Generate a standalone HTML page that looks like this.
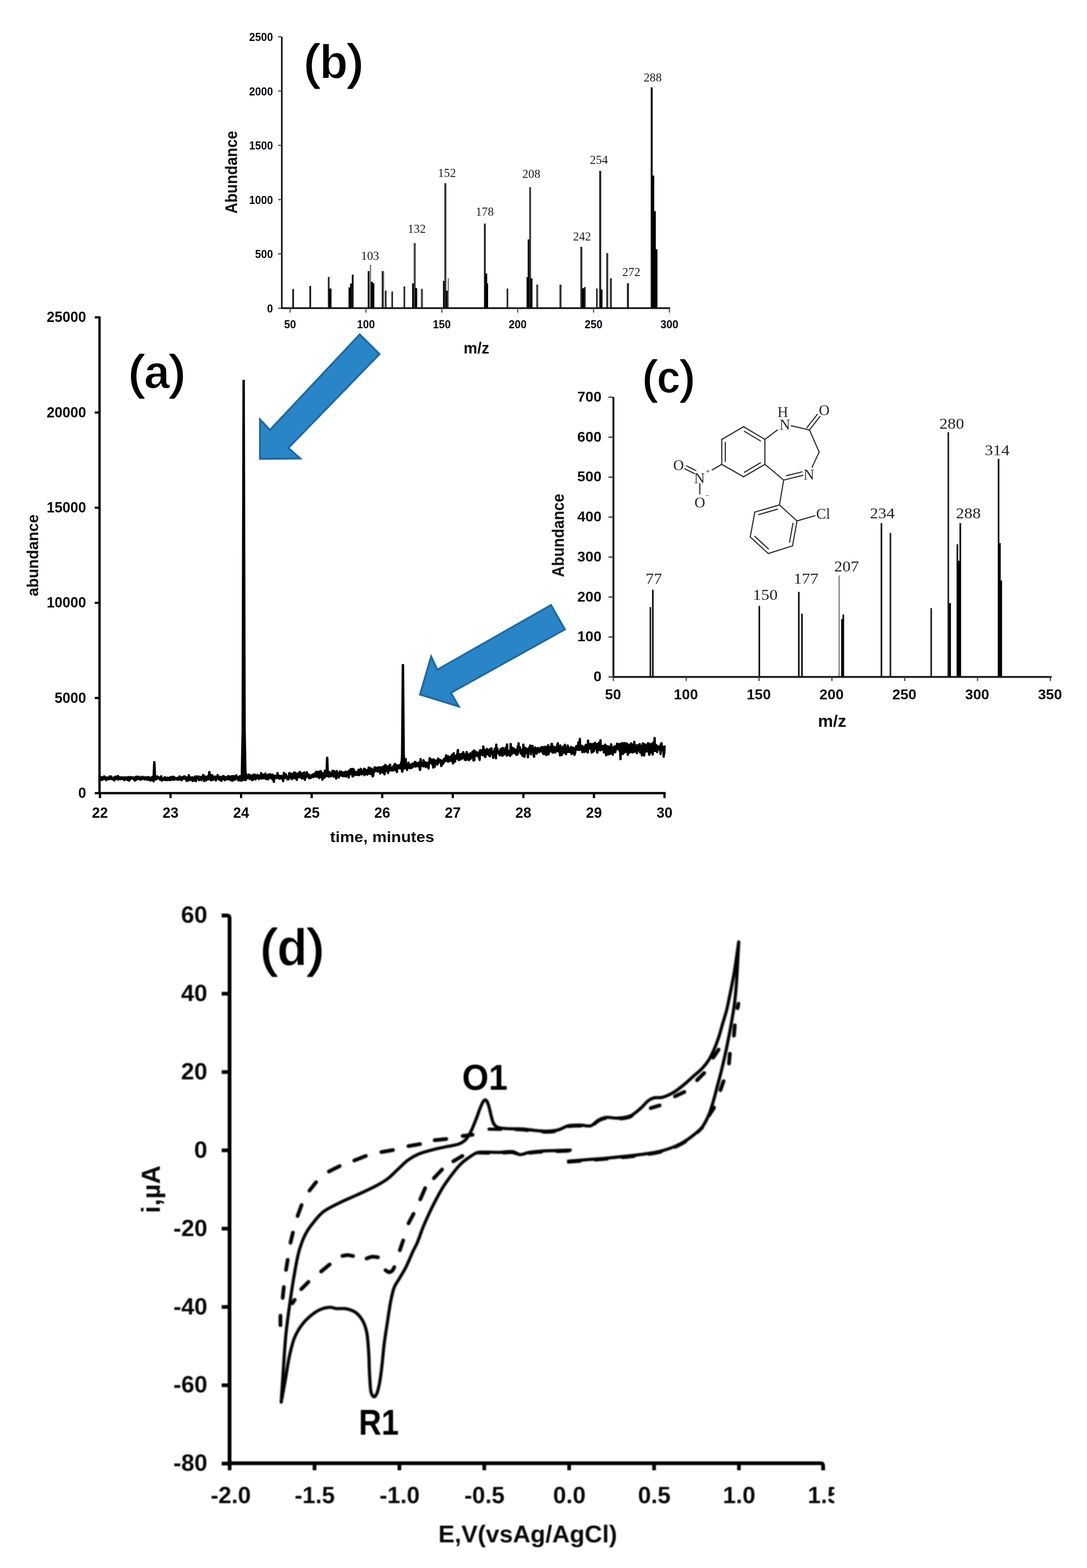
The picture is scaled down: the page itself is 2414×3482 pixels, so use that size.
<!DOCTYPE html>
<html lang="en">
<head>
<meta charset="utf-8">
<title>GC-MS chromatogram, mass spectra and cyclic voltammogram</title>
<style>
html,body{margin:0;padding:0;background:#fff;}
body{width:2414px;height:3482px;overflow:hidden;}
svg{display:block;}
text{white-space:pre;}
</style>
</head>
<body>
<svg width="2414" height="3482" viewBox="0 0 2414 3482">
<defs>
<filter id="soft05" x="0" y="0" width="2414" height="3482" filterUnits="userSpaceOnUse" color-interpolation-filters="sRGB"><feGaussianBlur stdDeviation="0.55"/></filter>
<filter id="soft08" x="0" y="0" width="2414" height="3482" filterUnits="userSpaceOnUse" color-interpolation-filters="sRGB"><feGaussianBlur stdDeviation="0.8"/></filter>
<filter id="soft10" x="0" y="0" width="2414" height="3482" filterUnits="userSpaceOnUse" color-interpolation-filters="sRGB"><feGaussianBlur stdDeviation="1.0"/></filter>
<filter id="soft15" x="0" y="0" width="2414" height="3482" filterUnits="userSpaceOnUse" color-interpolation-filters="sRGB"><feGaussianBlur stdDeviation="1.5"/></filter>
</defs>
<rect x="0" y="0" width="2414" height="3482" fill="#ffffff"/>
<g id="panel-b" filter="url(#soft05)">
<rect x="649.00" y="641.70" width="4.00" height="42.60" fill="#222"/>
<rect x="687.00" y="635.00" width="4.00" height="49.30" fill="#222"/>
<rect x="728.00" y="615.00" width="4.00" height="69.30" fill="#333"/>
<rect x="730.20" y="640.70" width="6.00" height="43.60" fill="#000"/>
<rect x="774.00" y="638.00" width="4.00" height="46.30" fill="#000"/>
<rect x="777.50" y="629.40" width="4.00" height="54.90" fill="#000"/>
<rect x="781.30" y="609.70" width="4.00" height="74.60" fill="#111"/>
<rect x="816.60" y="602.00" width="4.00" height="82.30" fill="#111"/>
<rect x="821.55" y="588.00" width="2.50" height="96.30" fill="#666"/>
<rect x="823.55" y="625.70" width="4.50" height="58.60" fill="#000"/>
<rect x="827.30" y="629.00" width="4.00" height="55.30" fill="#000"/>
<rect x="847.70" y="602.00" width="4.00" height="82.30" fill="#222"/>
<rect x="851.75" y="602.00" width="1.50" height="82.30" fill="#777"/>
<rect x="854.85" y="645.40" width="3.50" height="38.90" fill="#222"/>
<rect x="869.25" y="647.30" width="3.50" height="37.00" fill="#222"/>
<rect x="896.25" y="636.00" width="3.50" height="48.30" fill="#222"/>
<rect x="915.20" y="629.40" width="5.00" height="54.90" fill="#000"/>
<rect x="918.75" y="539.80" width="4.50" height="144.50" fill="#444"/>
<rect x="921.50" y="639.80" width="5.00" height="44.50" fill="#000"/>
<rect x="934.75" y="641.30" width="4.50" height="43.00" fill="#444"/>
<rect x="983.80" y="623.80" width="5.00" height="60.50" fill="#000"/>
<rect x="986.75" y="406.80" width="4.50" height="277.50" fill="#333"/>
<rect x="989.50" y="645.40" width="5.00" height="38.90" fill="#000"/>
<rect x="994.25" y="618.00" width="2.50" height="66.30" fill="#666"/>
<rect x="1074.70" y="496.50" width="4.00" height="187.80" fill="#222"/>
<rect x="1077.00" y="607.40" width="5.00" height="76.90" fill="#000"/>
<rect x="1080.00" y="629.00" width="4.00" height="55.30" fill="#000"/>
<rect x="1125.15" y="640.70" width="3.50" height="43.60" fill="#222"/>
<rect x="1169.35" y="615.30" width="4.50" height="69.00" fill="#000"/>
<rect x="1171.90" y="531.70" width="5.00" height="152.60" fill="#000"/>
<rect x="1175.30" y="415.50" width="4.00" height="268.80" fill="#333"/>
<rect x="1177.50" y="618.00" width="5.00" height="66.30" fill="#000"/>
<rect x="1190.75" y="632.00" width="4.50" height="52.30" fill="#444"/>
<rect x="1242.45" y="632.00" width="4.50" height="52.30" fill="#333"/>
<rect x="1288.75" y="548.00" width="4.50" height="136.30" fill="#333"/>
<rect x="1292.00" y="640.00" width="5.00" height="44.30" fill="#000"/>
<rect x="1296.70" y="637.50" width="4.00" height="46.80" fill="#222"/>
<rect x="1323.85" y="640.70" width="3.50" height="43.60" fill="#222"/>
<rect x="1330.65" y="379.40" width="4.50" height="304.90" fill="#222"/>
<rect x="1333.00" y="642.60" width="5.00" height="41.70" fill="#000"/>
<rect x="1346.25" y="562.00" width="4.50" height="122.30" fill="#333"/>
<rect x="1354.35" y="618.00" width="4.50" height="66.30" fill="#333"/>
<rect x="1392.25" y="629.00" width="4.50" height="55.30" fill="#222"/>
<rect x="1445.05" y="194.00" width="4.50" height="490.30" fill="#111"/>
<rect x="1448.00" y="389.80" width="5.00" height="294.50" fill="#000"/>
<rect x="1451.50" y="469.00" width="5.00" height="215.30" fill="#000"/>
<rect x="1455.10" y="553.50" width="5.00" height="130.80" fill="#000"/>
<rect x="624.00" y="82.00" width="3.60" height="604.10" fill="#111"/>
<rect x="624.00" y="682.40" width="864.50" height="3.80" fill="#111"/>
<rect x="617.80" y="683.00" width="8.00" height="2.60" fill="#444"/>
<rect x="617.80" y="562.48" width="8.00" height="2.60" fill="#444"/>
<rect x="617.80" y="441.95" width="8.00" height="2.60" fill="#444"/>
<rect x="617.80" y="321.42" width="8.00" height="2.60" fill="#444"/>
<rect x="617.80" y="200.90" width="8.00" height="2.60" fill="#444"/>
<rect x="617.80" y="80.37" width="8.00" height="2.60" fill="#444"/>
<rect x="642.90" y="684.30" width="2.60" height="10.00" fill="#555"/>
<rect x="811.40" y="684.30" width="2.60" height="10.00" fill="#555"/>
<rect x="979.90" y="684.30" width="2.60" height="10.00" fill="#555"/>
<rect x="1148.40" y="684.30" width="2.60" height="10.00" fill="#555"/>
<rect x="1316.90" y="684.30" width="2.60" height="10.00" fill="#555"/>
<rect x="1485.40" y="684.30" width="2.60" height="10.00" fill="#555"/>
<text x="606.2" y="693.9" font-size="26.5" font-family='"Liberation Sans", Arial, Helvetica, sans-serif' font-weight="bold" text-anchor="end" fill="#0a0a14" textLength="13.2" lengthAdjust="spacingAndGlyphs" >0</text>
<text x="606.2" y="573.4" font-size="26.5" font-family='"Liberation Sans", Arial, Helvetica, sans-serif' font-weight="bold" text-anchor="end" fill="#0a0a14" textLength="39.8" lengthAdjust="spacingAndGlyphs" >500</text>
<text x="606.2" y="452.9" font-size="26.5" font-family='"Liberation Sans", Arial, Helvetica, sans-serif' font-weight="bold" text-anchor="end" fill="#0a0a14" textLength="53.0" lengthAdjust="spacingAndGlyphs" >1000</text>
<text x="606.2" y="332.3" font-size="26.5" font-family='"Liberation Sans", Arial, Helvetica, sans-serif' font-weight="bold" text-anchor="end" fill="#0a0a14" textLength="53.0" lengthAdjust="spacingAndGlyphs" >1500</text>
<text x="606.2" y="211.8" font-size="26.5" font-family='"Liberation Sans", Arial, Helvetica, sans-serif' font-weight="bold" text-anchor="end" fill="#0a0a14" textLength="53.0" lengthAdjust="spacingAndGlyphs" >2000</text>
<text x="606.2" y="91.3" font-size="26.5" font-family='"Liberation Sans", Arial, Helvetica, sans-serif' font-weight="bold" text-anchor="end" fill="#0a0a14" textLength="53.0" lengthAdjust="spacingAndGlyphs" >2500</text>
<text x="644.2" y="728.6" font-size="26.5" font-family='"Liberation Sans", Arial, Helvetica, sans-serif' font-weight="bold" text-anchor="middle" fill="#0a0a14" textLength="26.5" lengthAdjust="spacingAndGlyphs" >50</text>
<text x="812.7" y="728.6" font-size="26.5" font-family='"Liberation Sans", Arial, Helvetica, sans-serif' font-weight="bold" text-anchor="middle" fill="#0a0a14" textLength="39.8" lengthAdjust="spacingAndGlyphs" >100</text>
<text x="981.2" y="728.6" font-size="26.5" font-family='"Liberation Sans", Arial, Helvetica, sans-serif' font-weight="bold" text-anchor="middle" fill="#0a0a14" textLength="39.8" lengthAdjust="spacingAndGlyphs" >150</text>
<text x="1149.7" y="728.6" font-size="26.5" font-family='"Liberation Sans", Arial, Helvetica, sans-serif' font-weight="bold" text-anchor="middle" fill="#0a0a14" textLength="39.8" lengthAdjust="spacingAndGlyphs" >200</text>
<text x="1318.2" y="728.6" font-size="26.5" font-family='"Liberation Sans", Arial, Helvetica, sans-serif' font-weight="bold" text-anchor="middle" fill="#0a0a14" textLength="39.8" lengthAdjust="spacingAndGlyphs" >250</text>
<text x="1486.7" y="728.6" font-size="26.5" font-family='"Liberation Sans", Arial, Helvetica, sans-serif' font-weight="bold" text-anchor="middle" fill="#0a0a14" textLength="39.8" lengthAdjust="spacingAndGlyphs" >300</text>
<text x="526.0" y="382.5" font-size="37" font-family='"Liberation Sans", Arial, Helvetica, sans-serif' font-weight="bold" text-anchor="middle" fill="#0a0a0a" textLength="184.0" lengthAdjust="spacingAndGlyphs" transform="rotate(-90 526.0 382.5)" >Abundance</text>
<text x="1058.0" y="785.3" font-size="34.5" font-family='"Liberation Sans", Arial, Helvetica, sans-serif' font-weight="bold" text-anchor="middle" fill="#0a0a0a" textLength="57.0" lengthAdjust="spacingAndGlyphs" >m/z</text>
<text x="675.5" y="174.3" font-size="105" font-family='"Liberation Sans", Arial, Helvetica, sans-serif' font-weight="bold" fill="#000" textLength="131.0" lengthAdjust="spacingAndGlyphs" stroke-linejoin="round"><tspan font-weight="normal" stroke="#000" stroke-width="3.2">(</tspan><tspan stroke="#fff" stroke-width="1.6" paint-order="fill stroke">b</tspan><tspan font-weight="normal" stroke="#000" stroke-width="3.2">)</tspan></text>
<text x="821.8" y="577.4" font-size="28" font-family='"Liberation Serif", "Times New Roman", serif' font-weight="normal" text-anchor="middle" fill="#1a1a1a" textLength="40.0" lengthAdjust="spacingAndGlyphs" >103</text>
<text x="925.5" y="517.0" font-size="28" font-family='"Liberation Serif", "Times New Roman", serif' font-weight="normal" text-anchor="middle" fill="#1a1a1a" textLength="40.0" lengthAdjust="spacingAndGlyphs" >132</text>
<text x="992.5" y="392.5" font-size="28" font-family='"Liberation Serif", "Times New Roman", serif' font-weight="normal" text-anchor="middle" fill="#1a1a1a" textLength="40.0" lengthAdjust="spacingAndGlyphs" >152</text>
<text x="1076.5" y="479.0" font-size="28" font-family='"Liberation Serif", "Times New Roman", serif' font-weight="normal" text-anchor="middle" fill="#1a1a1a" textLength="40.0" lengthAdjust="spacingAndGlyphs" >178</text>
<text x="1180.0" y="395.0" font-size="28" font-family='"Liberation Serif", "Times New Roman", serif' font-weight="normal" text-anchor="middle" fill="#1a1a1a" textLength="40.0" lengthAdjust="spacingAndGlyphs" >208</text>
<text x="1292.5" y="534.0" font-size="28" font-family='"Liberation Serif", "Times New Roman", serif' font-weight="normal" text-anchor="middle" fill="#1a1a1a" textLength="40.0" lengthAdjust="spacingAndGlyphs" >242</text>
<text x="1330.0" y="363.5" font-size="28" font-family='"Liberation Serif", "Times New Roman", serif' font-weight="normal" text-anchor="middle" fill="#1a1a1a" textLength="40.0" lengthAdjust="spacingAndGlyphs" >254</text>
<text x="1402.0" y="613.0" font-size="28" font-family='"Liberation Serif", "Times New Roman", serif' font-weight="normal" text-anchor="middle" fill="#1a1a1a" textLength="40.0" lengthAdjust="spacingAndGlyphs" >272</text>
<text x="1449.5" y="181.0" font-size="28" font-family='"Liberation Serif", "Times New Roman", serif' font-weight="normal" text-anchor="middle" fill="#1a1a1a" textLength="40.0" lengthAdjust="spacingAndGlyphs" >288</text>
</g>
<g id="panel-a" filter="url(#soft05)">
<path d="M222.0,1731.3 L222.6,1729.0 L223.3,1727.3 L223.9,1731.7 L224.5,1729.2 L225.1,1729.3 L225.8,1725.9 L226.4,1726.0 L227.0,1731.9 L227.6,1727.6 L228.3,1729.2 L228.9,1730.1 L229.5,1729.0 L230.1,1728.8 L230.8,1727.3 L231.4,1724.1 L232.0,1727.5 L232.7,1729.5 L233.3,1727.3 L233.9,1728.4 L234.5,1729.5 L235.2,1729.9 L235.8,1732.6 L236.4,1726.4 L237.0,1730.8 L237.7,1730.2 L238.3,1729.2 L238.9,1729.2 L239.6,1728.5 L240.2,1729.7 L240.8,1726.7 L241.4,1730.5 L242.1,1729.7 L242.7,1728.9 L243.3,1728.0 L243.9,1724.1 L244.6,1729.3 L245.2,1727.6 L245.8,1728.3 L246.4,1727.7 L247.1,1724.5 L247.7,1725.8 L248.3,1729.6 L249.0,1729.4 L249.6,1730.8 L250.2,1728.8 L250.8,1728.8 L251.5,1729.1 L252.1,1727.8 L252.7,1727.5 L253.3,1729.9 L254.0,1733.2 L254.6,1725.4 L255.2,1729.8 L255.9,1726.8 L256.5,1728.0 L257.1,1728.8 L257.7,1724.7 L258.4,1727.4 L259.0,1728.2 L259.6,1729.1 L260.2,1730.2 L260.9,1728.6 L261.5,1726.5 L262.1,1723.4 L262.7,1730.9 L263.4,1730.3 L264.0,1727.2 L264.6,1727.9 L265.3,1728.7 L265.9,1727.4 L266.5,1726.2 L267.1,1726.4 L267.8,1730.4 L268.4,1728.1 L269.0,1726.4 L269.6,1727.1 L270.3,1728.3 L270.9,1729.3 L271.5,1729.5 L272.2,1726.3 L272.8,1727.7 L273.4,1729.7 L274.0,1730.5 L274.7,1730.1 L275.3,1728.4 L275.9,1732.4 L276.5,1729.5 L277.2,1726.2 L277.8,1727.8 L278.4,1727.9 L279.0,1727.9 L279.7,1726.9 L280.3,1730.1 L280.9,1727.7 L281.6,1731.2 L282.2,1729.9 L282.8,1726.8 L283.4,1729.5 L284.1,1732.4 L284.7,1728.0 L285.3,1725.7 L285.9,1727.8 L286.6,1733.7 L287.2,1730.8 L287.8,1731.5 L288.4,1729.4 L289.1,1727.9 L289.7,1730.4 L290.3,1725.7 L291.0,1727.7 L291.6,1728.3 L292.2,1727.6 L292.8,1728.3 L293.5,1726.6 L294.1,1727.0 L294.7,1728.6 L295.3,1727.0 L296.0,1726.4 L296.6,1726.9 L297.2,1731.2 L297.9,1729.4 L298.5,1729.0 L299.1,1731.0 L299.7,1733.2 L300.4,1727.3 L301.0,1725.4 L301.6,1728.4 L302.2,1729.8 L302.9,1731.3 L303.5,1724.9 L304.1,1726.1 L304.7,1725.4 L305.4,1728.6 L306.0,1728.1 L306.6,1727.3 L307.3,1729.5 L307.9,1727.6 L308.5,1725.0 L309.1,1726.0 L309.8,1727.0 L310.4,1730.3 L311.0,1728.2 L311.6,1731.4 L312.3,1729.2 L312.9,1728.6 L313.5,1726.8 L314.2,1726.0 L314.8,1727.9 L315.4,1730.0 L316.0,1729.9 L316.7,1725.0 L317.3,1728.3 L317.9,1726.4 L318.5,1728.4 L319.2,1729.1 L319.8,1726.9 L320.4,1728.5 L321.0,1730.8 L321.7,1729.5 L322.3,1726.2 L322.9,1727.3 L323.6,1726.3 L324.2,1730.9 L324.8,1729.2 L325.4,1728.6 L326.1,1730.3 L326.7,1729.8 L327.3,1726.5 L327.9,1730.4 L328.6,1725.9 L329.2,1731.8 L329.8,1725.4 L330.5,1726.8 L331.1,1728.9 L331.7,1727.5 L332.3,1730.4 L333.0,1728.5 L333.6,1729.0 L334.2,1733.4 L334.8,1729.9 L335.5,1730.4 L336.1,1726.2 L336.7,1732.0 L337.3,1730.3 L338.0,1725.7 L338.6,1730.0 L339.2,1729.6 L339.9,1727.3 L340.5,1727.3 L341.1,1735.0 L341.7,1730.2 L342.4,1728.3 L343.0,1727.0 L343.6,1727.8 L344.2,1728.8 L344.9,1726.6 L345.5,1727.9 L346.1,1727.6 L346.7,1727.0 L347.4,1728.7 L348.0,1724.7 L348.6,1727.7 L349.3,1724.1 L349.9,1728.3 L350.5,1728.7 L351.1,1728.9 L351.8,1728.4 L352.4,1726.8 L353.0,1728.5 L353.6,1726.5 L354.3,1726.4 L354.9,1727.9 L355.5,1731.2 L356.2,1727.9 L356.8,1728.7 L357.4,1725.5 L358.0,1723.9 L358.7,1732.2 L359.3,1733.4 L359.9,1728.6 L360.5,1730.7 L361.2,1731.0 L361.8,1731.7 L362.4,1729.3 L363.0,1731.5 L363.7,1729.0 L364.3,1727.8 L364.9,1731.1 L365.6,1726.0 L366.2,1731.8 L366.8,1729.3 L367.4,1730.8 L368.1,1730.6 L368.7,1728.6 L369.3,1727.3 L369.9,1732.6 L370.6,1730.7 L371.2,1731.8 L371.8,1727.2 L372.5,1728.1 L373.1,1729.4 L373.7,1729.9 L374.3,1731.6 L375.0,1731.5 L375.6,1731.8 L376.2,1727.2 L376.8,1728.7 L377.5,1731.1 L378.1,1726.2 L378.7,1732.3 L379.3,1730.2 L380.0,1726.6 L380.6,1729.5 L381.2,1730.0 L381.9,1726.8 L382.5,1725.0 L383.1,1731.1 L383.7,1730.6 L384.4,1727.3 L385.0,1726.4 L385.6,1725.3 L386.2,1731.6 L386.9,1727.8 L387.5,1726.0 L388.1,1730.8 L388.8,1728.3 L389.4,1730.1 L390.0,1728.9 L390.6,1729.0 L391.3,1729.6 L391.9,1730.5 L392.5,1730.5 L393.1,1728.2 L393.8,1727.2 L394.4,1730.0 L395.0,1728.1 L395.6,1731.5 L396.3,1729.6 L396.9,1729.5 L397.5,1728.1 L398.2,1728.6 L398.8,1724.1 L399.4,1729.2 L400.0,1730.8 L400.7,1729.0 L401.3,1727.4 L401.9,1727.2 L402.5,1729.2 L403.2,1732.7 L403.8,1730.2 L404.4,1727.4 L405.0,1725.4 L405.7,1729.2 L406.3,1728.4 L406.9,1729.5 L407.6,1725.1 L408.2,1727.9 L408.8,1728.0 L409.4,1724.2 L410.1,1729.2 L410.7,1724.7 L411.3,1728.5 L411.9,1730.1 L412.6,1729.2 L413.2,1726.0 L413.8,1731.1 L414.5,1734.0 L415.1,1729.4 L415.7,1730.2 L416.3,1727.4 L417.0,1726.9 L417.6,1733.1 L418.2,1730.8 L418.8,1728.4 L419.5,1721.5 L420.1,1727.3 L420.7,1726.8 L421.3,1732.4 L422.0,1728.3 L422.6,1726.7 L423.2,1726.8 L423.9,1727.5 L424.5,1730.9 L425.1,1729.7 L425.7,1729.2 L426.4,1728.9 L427.0,1726.3 L427.6,1734.4 L428.2,1731.3 L428.9,1728.8 L429.5,1727.9 L430.1,1731.2 L430.8,1733.0 L431.4,1726.3 L432.0,1729.3 L432.6,1727.9 L433.3,1727.1 L433.9,1724.3 L434.5,1731.4 L435.1,1734.6 L435.8,1731.6 L436.4,1727.7 L437.0,1729.1 L437.6,1728.6 L438.3,1724.1 L438.9,1725.0 L439.5,1728.4 L440.2,1726.9 L440.8,1727.6 L441.4,1725.9 L442.0,1732.4 L442.7,1725.1 L443.3,1724.7 L443.9,1727.9 L444.5,1726.7 L445.2,1726.2 L445.8,1727.5 L446.4,1727.3 L447.0,1727.8 L447.7,1732.9 L448.3,1725.7 L448.9,1725.6 L449.6,1724.2 L450.2,1726.6 L450.8,1727.8 L451.4,1721.0 L452.1,1726.1 L452.7,1726.6 L453.3,1729.9 L453.9,1734.3 L454.6,1731.4 L455.2,1724.1 L455.8,1727.3 L456.5,1729.5 L457.1,1726.1 L457.7,1729.6 L458.3,1732.6 L459.0,1728.0 L459.6,1725.5 L460.2,1728.1 L460.8,1724.3 L461.5,1726.6 L462.1,1723.4 L462.7,1730.1 L463.3,1730.2 L464.0,1723.9 L464.6,1727.8 L465.2,1724.9 L465.9,1727.7 L466.5,1724.2 L467.1,1727.9 L467.7,1726.7 L468.4,1732.6 L469.0,1721.7 L469.6,1732.2 L470.2,1729.6 L470.9,1721.3 L471.5,1723.0 L472.1,1726.6 L472.8,1728.1 L473.4,1731.7 L474.0,1728.9 L474.6,1727.6 L475.3,1729.3 L475.9,1724.8 L476.5,1728.4 L477.1,1725.6 L477.8,1729.7 L478.4,1724.8 L479.0,1731.3 L479.6,1733.0 L480.3,1725.2 L480.9,1725.7 L481.5,1724.9 L482.2,1726.7 L482.8,1724.1 L483.4,1721.1 L484.0,1728.9 L484.7,1727.8 L485.3,1728.9 L485.9,1730.8 L486.5,1730.1 L487.2,1726.5 L487.8,1729.4 L488.4,1724.8 L489.1,1731.9 L489.7,1731.0 L490.3,1725.8 L490.9,1729.6 L491.6,1734.0 L492.2,1731.0 L492.8,1729.0 L493.4,1728.0 L494.1,1730.5 L494.7,1724.8 L495.3,1723.5 L495.9,1727.8 L496.6,1727.2 L497.2,1730.0 L497.8,1725.4 L498.5,1725.5 L499.1,1724.7 L499.7,1732.5 L500.3,1729.8 L501.0,1728.5 L501.6,1728.2 L502.2,1727.1 L502.8,1727.5 L503.5,1729.4 L504.1,1726.0 L504.7,1730.5 L505.3,1729.2 L506.0,1724.3 L506.6,1723.7 L507.2,1726.3 L507.9,1724.0 L508.5,1728.9 L509.1,1730.8 L509.7,1724.7 L510.4,1727.2 L511.0,1724.7 L511.6,1730.7 L512.2,1727.5 L512.9,1732.7 L513.5,1724.1 L514.1,1727.4 L514.8,1724.7 L515.4,1729.7 L516.0,1733.6 L516.6,1729.7 L517.3,1723.6 L517.9,1732.8 L518.5,1725.6 L519.1,1723.8 L519.8,1727.6 L520.4,1727.0 L521.0,1725.5 L521.6,1731.3 L522.3,1725.4 L522.9,1723.8 L523.5,1729.9 L524.2,1726.9 L524.8,1721.8 L525.4,1728.2 L526.0,1726.5 L526.7,1728.9 L527.3,1726.4 L527.9,1726.3 L528.5,1725.7 L529.2,1732.8 L529.8,1729.0 L530.4,1726.3 L531.1,1726.4 L531.7,1728.1 L532.3,1732.5 L532.9,1723.6 L533.6,1733.2 L534.2,1727.4 L534.8,1725.0 L535.4,1731.5 L536.1,1725.8 L536.7,1733.3 L537.3,1731.6 L537.9,1727.8 L538.6,1725.9 L539.2,1729.5 L539.8,1721.4 L540.5,1731.1 L541.1,1730.2 L541.7,1730.3 L542.3,1729.2 L543.0,1731.3 L543.6,1731.1 L544.2,1731.9 L544.8,1727.4 L545.5,1732.2 L546.1,1729.0 L546.7,1718.5 L547.4,1723.2 L548.0,1729.0 L548.6,1723.4 L549.2,1725.2 L549.9,1726.4 L550.5,1726.6 L551.1,1725.4 L551.7,1723.6 L552.4,1723.8 L553.0,1720.1 L553.6,1726.5 L554.2,1729.9 L554.9,1724.8 L555.5,1727.9 L556.1,1729.0 L556.8,1726.7 L557.4,1722.2 L558.0,1728.3 L558.6,1723.4 L559.3,1725.8 L559.9,1732.4 L560.5,1725.6 L561.1,1725.0 L561.8,1731.5 L562.4,1720.5 L563.0,1729.2 L563.6,1729.6 L564.3,1727.9 L564.9,1728.2 L565.5,1725.0 L566.2,1720.5 L566.8,1722.4 L567.4,1730.9 L568.0,1728.1 L568.7,1727.7 L569.3,1724.7 L569.9,1726.5 L570.5,1722.8 L571.2,1723.2 L571.8,1720.8 L572.4,1725.8 L573.1,1728.1 L573.7,1722.3 L574.3,1724.1 L574.9,1730.1 L575.6,1724.9 L576.2,1726.7 L576.8,1723.5 L577.4,1722.1 L578.1,1725.2 L578.7,1726.9 L579.3,1723.9 L579.9,1716.8 L580.6,1728.9 L581.2,1729.0 L581.8,1726.8 L582.5,1724.6 L583.1,1723.0 L583.7,1719.9 L584.3,1724.8 L585.0,1727.8 L585.6,1722.3 L586.2,1726.0 L586.8,1728.1 L587.5,1724.4 L588.1,1722.4 L588.7,1726.4 L589.4,1718.0 L590.0,1726.6 L590.6,1726.0 L591.2,1730.0 L591.9,1723.2 L592.5,1725.8 L593.1,1723.2 L593.7,1722.1 L594.4,1723.0 L595.0,1730.5 L595.6,1723.3 L596.2,1720.0 L596.9,1728.5 L597.5,1726.2 L598.1,1725.8 L598.8,1725.9 L599.4,1721.0 L600.0,1719.4 L600.6,1723.0 L601.3,1727.7 L601.9,1722.6 L602.5,1727.8 L603.1,1726.9 L603.8,1725.9 L604.4,1728.9 L605.0,1720.2 L605.7,1731.3 L606.3,1727.9 L606.9,1732.2 L607.5,1728.8 L608.2,1736.2 L608.8,1729.4 L609.4,1722.5 L610.0,1724.5 L610.7,1727.8 L611.3,1722.9 L611.9,1727.7 L612.5,1726.7 L613.2,1724.9 L613.8,1725.8 L614.4,1723.7 L615.1,1727.6 L615.7,1723.6 L616.3,1716.6 L616.9,1727.1 L617.6,1722.8 L618.2,1725.3 L618.8,1726.1 L619.4,1726.1 L620.1,1722.7 L620.7,1729.4 L621.3,1727.1 L621.9,1723.6 L622.6,1723.2 L623.2,1725.1 L623.8,1727.0 L624.5,1728.7 L625.1,1728.6 L625.7,1726.0 L626.3,1728.4 L627.0,1722.8 L627.6,1725.6 L628.2,1725.6 L628.8,1734.6 L629.5,1726.1 L630.1,1721.4 L630.7,1716.5 L631.4,1726.9 L632.0,1721.0 L632.6,1727.5 L633.2,1719.9 L633.9,1726.9 L634.5,1724.7 L635.1,1719.7 L635.7,1722.9 L636.4,1724.4 L637.0,1727.5 L637.6,1728.3 L638.2,1730.4 L638.9,1724.9 L639.5,1725.5 L640.1,1730.9 L640.8,1725.5 L641.4,1729.4 L642.0,1722.2 L642.6,1716.6 L643.3,1722.7 L643.9,1723.5 L644.5,1721.4 L645.1,1721.0 L645.8,1725.0 L646.4,1721.5 L647.0,1718.1 L647.7,1730.4 L648.3,1720.2 L648.9,1720.9 L649.5,1728.0 L650.2,1722.8 L650.8,1724.4 L651.4,1719.4 L652.0,1728.1 L652.7,1715.7 L653.3,1724.4 L653.9,1717.9 L654.5,1725.1 L655.2,1721.2 L655.8,1716.0 L656.4,1728.1 L657.1,1727.1 L657.7,1722.3 L658.3,1723.9 L658.9,1731.9 L659.6,1726.5 L660.2,1718.4 L660.8,1722.5 L661.4,1723.5 L662.1,1725.7 L662.7,1722.3 L663.3,1717.3 L664.0,1724.1 L664.6,1725.9 L665.2,1714.5 L665.8,1715.2 L666.5,1714.7 L667.1,1724.2 L667.7,1718.9 L668.3,1721.7 L669.0,1720.5 L669.6,1725.9 L670.2,1728.6 L670.8,1717.3 L671.5,1719.4 L672.1,1719.4 L672.7,1720.1 L673.4,1722.3 L674.0,1717.5 L674.6,1728.3 L675.2,1724.2 L675.9,1715.2 L676.5,1718.4 L677.1,1731.5 L677.7,1726.7 L678.4,1722.8 L679.0,1722.6 L679.6,1719.8 L680.2,1725.9 L680.9,1723.2 L681.5,1715.0 L682.1,1722.4 L682.8,1719.8 L683.4,1721.0 L684.0,1723.1 L684.6,1722.1 L685.3,1719.8 L685.9,1721.5 L686.5,1728.0 L687.1,1722.3 L687.8,1723.8 L688.4,1722.2 L689.0,1727.9 L689.7,1724.7 L690.3,1724.0 L690.9,1726.6 L691.5,1724.2 L692.2,1721.8 L692.8,1724.5 L693.4,1724.7 L694.0,1720.8 L694.7,1719.7 L695.3,1725.5 L695.9,1725.6 L696.5,1720.6 L697.2,1725.1 L697.8,1721.1 L698.4,1720.7 L699.1,1723.1 L699.7,1717.1 L700.3,1717.5 L700.9,1716.3 L701.6,1721.4 L702.2,1714.0 L702.8,1721.7 L703.4,1725.2 L704.1,1719.5 L704.7,1720.9 L705.3,1718.2 L706.0,1714.3 L706.6,1724.3 L707.2,1717.8 L707.8,1722.6 L708.5,1720.7 L709.1,1727.8 L709.7,1713.6 L710.3,1713.8 L711.0,1716.6 L711.6,1717.1 L712.2,1712.4 L712.8,1718.2 L713.5,1719.3 L714.1,1725.6 L714.7,1725.5 L715.4,1716.4 L716.0,1731.3 L716.6,1726.0 L717.2,1718.4 L717.9,1721.3 L718.5,1718.9 L719.1,1720.1 L719.7,1723.6 L720.4,1727.0 L721.0,1716.8 L721.6,1711.5 L722.3,1724.2 L722.9,1717.9 L723.5,1722.3 L724.1,1714.3 L724.8,1722.9 L725.4,1718.0 L726.0,1717.7 L726.6,1723.6 L727.3,1721.7 L727.9,1716.5 L728.5,1714.3 L729.1,1716.4 L729.8,1724.5 L730.4,1714.3 L731.0,1720.7 L731.7,1714.3 L732.3,1718.9 L732.9,1719.4 L733.5,1724.2 L734.2,1718.5 L734.8,1717.7 L735.4,1723.4 L736.0,1717.0 L736.7,1720.7 L737.3,1717.0 L737.9,1720.6 L738.5,1711.7 L739.2,1714.8 L739.8,1718.3 L740.4,1716.7 L741.1,1725.0 L741.7,1720.6 L742.3,1712.7 L742.9,1720.6 L743.6,1720.8 L744.2,1722.0 L744.8,1720.5 L745.4,1721.8 L746.1,1717.6 L746.7,1729.0 L747.3,1715.7 L748.0,1712.4 L748.6,1720.3 L749.2,1719.0 L749.8,1716.8 L750.5,1720.1 L751.1,1722.6 L751.7,1719.0 L752.3,1726.5 L753.0,1720.7 L753.6,1722.8 L754.2,1722.7 L754.8,1713.5 L755.5,1717.2 L756.1,1717.5 L756.7,1721.9 L757.4,1713.7 L758.0,1716.0 L758.6,1717.5 L759.2,1720.5 L759.9,1715.3 L760.5,1723.4 L761.1,1720.6 L761.7,1719.4 L762.4,1723.2 L763.0,1715.4 L763.6,1719.1 L764.3,1720.0 L764.9,1723.5 L765.5,1719.6 L766.1,1721.2 L766.8,1722.8 L767.4,1713.7 L768.0,1714.9 L768.6,1724.3 L769.3,1718.3 L769.9,1720.8 L770.5,1719.1 L771.1,1718.7 L771.8,1714.3 L772.4,1713.9 L773.0,1721.8 L773.7,1716.7 L774.3,1726.5 L774.9,1720.2 L775.5,1711.3 L776.2,1718.0 L776.8,1719.6 L777.4,1712.1 L778.0,1711.2 L778.7,1708.3 L779.3,1712.5 L779.9,1712.3 L780.6,1707.8 L781.2,1714.6 L781.8,1718.9 L782.4,1720.7 L783.1,1724.2 L783.7,1707.7 L784.3,1717.9 L784.9,1723.0 L785.6,1718.1 L786.2,1709.5 L786.8,1716.6 L787.4,1718.7 L788.1,1717.5 L788.7,1715.1 L789.3,1719.3 L790.0,1720.5 L790.6,1715.9 L791.2,1714.6 L791.8,1719.5 L792.5,1720.5 L793.1,1716.8 L793.7,1716.5 L794.3,1718.1 L795.0,1720.7 L795.6,1713.8 L796.2,1709.5 L796.8,1712.5 L797.5,1721.1 L798.1,1718.5 L798.7,1712.2 L799.4,1709.8 L800.0,1711.0 L800.6,1714.2 L801.2,1707.4 L801.9,1714.3 L802.5,1713.8 L803.1,1719.8 L803.7,1716.1 L804.4,1716.0 L805.0,1713.2 L805.6,1712.1 L806.3,1713.0 L806.9,1713.3 L807.5,1718.0 L808.1,1708.0 L808.8,1707.3 L809.4,1721.3 L810.0,1716.4 L810.6,1708.1 L811.3,1719.1 L811.9,1709.6 L812.5,1718.5 L813.1,1710.4 L813.8,1710.4 L814.4,1713.8 L815.0,1714.2 L815.7,1720.1 L816.3,1719.1 L816.9,1719.0 L817.5,1710.5 L818.2,1709.6 L818.8,1704.6 L819.4,1712.4 L820.0,1713.4 L820.7,1705.2 L821.3,1712.1 L821.9,1716.5 L822.6,1718.9 L823.2,1709.8 L823.8,1707.2 L824.4,1709.0 L825.1,1706.9 L825.7,1711.3 L826.3,1715.2 L826.9,1709.6 L827.6,1724.1 L828.2,1709.9 L828.8,1722.6 L829.4,1709.6 L830.1,1710.9 L830.7,1715.3 L831.3,1714.4 L832.0,1704.1 L832.6,1705.7 L833.2,1710.6 L833.8,1705.5 L834.5,1705.1 L835.1,1707.2 L835.7,1709.3 L836.3,1709.8 L837.0,1712.2 L837.6,1705.3 L838.2,1712.5 L838.8,1713.3 L839.5,1711.6 L840.1,1709.2 L840.7,1704.2 L841.4,1706.3 L842.0,1711.5 L842.6,1712.6 L843.2,1705.2 L843.9,1704.3 L844.5,1717.5 L845.1,1707.3 L845.7,1712.9 L846.4,1708.0 L847.0,1704.1 L847.6,1704.1 L848.3,1706.2 L848.9,1713.9 L849.5,1709.8 L850.1,1715.6 L850.8,1705.8 L851.4,1710.1 L852.0,1701.8 L852.6,1706.0 L853.3,1706.1 L853.9,1719.5 L854.5,1712.6 L855.1,1703.3 L855.8,1698.6 L856.4,1701.5 L857.0,1706.5 L857.7,1702.0 L858.3,1707.0 L858.9,1712.0 L859.5,1710.8 L860.2,1710.3 L860.8,1702.0 L861.4,1708.5 L862.0,1716.5 L862.7,1703.3 L863.3,1709.4 L863.9,1701.2 L864.6,1705.8 L865.2,1710.4 L865.8,1707.1 L866.4,1698.1 L867.1,1710.4 L867.7,1707.0 L868.3,1704.7 L868.9,1710.2 L869.6,1707.5 L870.2,1711.2 L870.8,1708.6 L871.4,1708.8 L872.1,1704.0 L872.7,1703.7 L873.3,1710.5 L874.0,1700.7 L874.6,1703.9 L875.2,1704.0 L875.8,1702.1 L876.5,1708.0 L877.1,1696.2 L877.7,1706.4 L878.3,1710.7 L879.0,1706.9 L879.6,1707.6 L880.2,1708.9 L880.9,1707.8 L881.5,1714.3 L882.1,1699.3 L882.7,1704.5 L883.4,1703.1 L884.0,1700.6 L884.6,1700.9 L885.2,1703.8 L885.9,1704.1 L886.5,1705.8 L887.1,1699.1 L887.7,1704.1 L888.4,1699.7 L889.0,1705.9 L889.6,1705.4 L890.3,1706.4 L890.9,1693.1 L891.5,1706.5 L892.1,1702.4 L892.8,1711.4 L893.4,1713.5 L894.0,1703.8 L894.6,1708.4 L895.3,1702.5 L895.9,1704.2 L896.5,1702.9 L897.1,1702.3 L897.8,1704.6 L898.4,1704.8 L899.0,1697.1 L899.7,1695.4 L900.3,1703.1 L900.9,1685.6 L901.5,1700.5 L902.2,1703.6 L902.8,1702.4 L903.4,1701.6 L904.0,1709.8 L904.7,1697.6 L905.3,1705.2 L905.9,1704.9 L906.6,1700.6 L907.2,1693.6 L907.8,1702.3 L908.4,1705.0 L909.1,1700.7 L909.7,1702.0 L910.3,1703.3 L910.9,1701.6 L911.6,1706.0 L912.2,1700.2 L912.8,1697.9 L913.4,1698.8 L914.1,1702.0 L914.7,1704.8 L915.3,1696.6 L916.0,1696.0 L916.6,1703.2 L917.2,1699.8 L917.8,1702.2 L918.5,1701.0 L919.1,1698.4 L919.7,1699.0 L920.3,1696.4 L921.0,1692.2 L921.6,1696.4 L922.2,1702.1 L922.9,1692.5 L923.5,1700.7 L924.1,1701.9 L924.7,1700.9 L925.4,1695.3 L926.0,1696.1 L926.6,1695.4 L927.2,1695.3 L927.9,1699.1 L928.5,1700.9 L929.1,1696.6 L929.7,1697.7 L930.4,1693.3 L931.0,1696.7 L931.6,1704.8 L932.3,1707.0 L932.9,1709.7 L933.5,1701.9 L934.1,1685.7 L934.8,1697.9 L935.4,1693.7 L936.0,1694.8 L936.6,1700.3 L937.3,1694.8 L937.9,1696.1 L938.5,1697.0 L939.2,1698.0 L939.8,1701.8 L940.4,1688.2 L941.0,1692.8 L941.7,1692.7 L942.3,1697.6 L942.9,1695.8 L943.5,1696.0 L944.2,1692.8 L944.8,1696.4 L945.4,1703.5 L946.0,1694.5 L946.7,1694.0 L947.3,1693.9 L947.9,1696.6 L948.6,1697.3 L949.2,1702.2 L949.8,1700.9 L950.4,1694.5 L951.1,1693.5 L951.7,1706.3 L952.3,1697.5 L952.9,1693.0 L953.6,1695.6 L954.2,1683.7 L954.8,1692.0 L955.4,1692.6 L956.1,1686.7 L956.7,1693.8 L957.3,1693.1 L958.0,1692.3 L958.6,1693.0 L959.2,1686.6 L959.8,1693.7 L960.5,1698.3 L961.1,1692.9 L961.7,1699.0 L962.3,1704.4 L963.0,1687.3 L963.6,1686.5 L964.2,1689.1 L964.9,1693.2 L965.5,1702.3 L966.1,1692.3 L966.7,1692.5 L967.4,1689.3 L968.0,1691.6 L968.6,1694.6 L969.2,1692.7 L969.9,1693.3 L970.5,1688.6 L971.1,1697.8 L971.7,1692.0 L972.4,1695.8 L973.0,1684.5 L973.6,1692.0 L974.3,1688.2 L974.9,1692.2 L975.5,1686.7 L976.1,1687.8 L976.8,1687.6 L977.4,1687.6 L978.0,1693.1 L978.6,1690.6 L979.3,1690.6 L979.9,1701.1 L980.5,1700.1 L981.2,1691.2 L981.8,1690.8 L982.4,1689.0 L983.0,1692.2 L983.7,1696.3 L984.3,1692.9 L984.9,1694.2 L985.5,1687.9 L986.2,1685.1 L986.8,1689.5 L987.4,1691.1 L988.0,1686.6 L988.7,1688.0 L989.3,1683.1 L989.9,1687.4 L990.6,1677.7 L991.2,1684.3 L991.8,1689.1 L992.4,1686.5 L993.1,1679.3 L993.7,1690.9 L994.3,1678.9 L994.9,1688.9 L995.6,1680.4 L996.2,1691.4 L996.8,1682.6 L997.5,1687.9 L998.1,1681.7 L998.7,1686.0 L999.3,1686.6 L1000.0,1687.9 L1000.6,1689.2 L1001.2,1686.2 L1001.8,1679.5 L1002.5,1687.6 L1003.1,1683.6 L1003.7,1676.7 L1004.3,1690.5 L1005.0,1677.7 L1005.6,1691.7 L1006.2,1695.2 L1006.9,1686.2 L1007.5,1672.7 L1008.1,1686.0 L1008.7,1684.5 L1009.4,1677.8 L1010.0,1691.4 L1010.6,1691.4 L1011.2,1683.0 L1011.9,1682.4 L1012.5,1683.4 L1013.1,1680.2 L1013.7,1680.7 L1014.4,1684.7 L1015.0,1674.8 L1015.6,1681.4 L1016.3,1669.9 L1016.9,1665.7 L1017.5,1677.6 L1018.1,1677.0 L1018.8,1688.2 L1019.4,1685.8 L1020.0,1675.5 L1020.6,1679.1 L1021.3,1681.1 L1021.9,1676.8 L1022.5,1686.5 L1023.2,1676.1 L1023.8,1679.3 L1024.4,1674.3 L1025.0,1677.7 L1025.7,1684.6 L1026.3,1676.6 L1026.9,1682.6 L1027.5,1680.7 L1028.2,1676.9 L1028.8,1670.4 L1029.4,1679.2 L1030.0,1680.7 L1030.7,1682.0 L1031.3,1680.3 L1031.9,1686.8 L1032.6,1683.6 L1033.2,1675.5 L1033.8,1685.4 L1034.4,1688.0 L1035.1,1685.3 L1035.7,1680.4 L1036.3,1669.9 L1036.9,1682.7 L1037.6,1677.3 L1038.2,1685.9 L1038.8,1674.1 L1039.5,1682.3 L1040.1,1676.4 L1040.7,1678.1 L1041.3,1688.1 L1042.0,1679.1 L1042.6,1678.1 L1043.2,1677.9 L1043.8,1680.7 L1044.5,1673.0 L1045.1,1685.0 L1045.7,1678.2 L1046.3,1679.7 L1047.0,1673.5 L1047.6,1679.8 L1048.2,1680.5 L1048.9,1677.5 L1049.5,1669.4 L1050.1,1672.8 L1050.7,1671.8 L1051.4,1688.3 L1052.0,1677.6 L1052.6,1666.7 L1053.2,1688.4 L1053.9,1676.3 L1054.5,1675.5 L1055.1,1676.8 L1055.8,1668.7 L1056.4,1677.3 L1057.0,1678.5 L1057.6,1674.4 L1058.3,1671.0 L1058.9,1673.1 L1059.5,1677.1 L1060.1,1678.4 L1060.8,1671.2 L1061.4,1675.6 L1062.0,1674.8 L1062.6,1676.5 L1063.3,1679.6 L1063.9,1683.5 L1064.5,1675.8 L1065.2,1687.5 L1065.8,1666.7 L1066.4,1672.1 L1067.0,1669.1 L1067.7,1675.7 L1068.3,1665.9 L1068.9,1671.7 L1069.5,1672.3 L1070.2,1672.3 L1070.8,1675.1 L1071.4,1676.3 L1072.0,1674.3 L1072.7,1677.4 L1073.3,1658.0 L1073.9,1663.6 L1074.6,1669.6 L1075.2,1670.5 L1075.8,1669.5 L1076.4,1665.4 L1077.1,1668.3 L1077.7,1681.0 L1078.3,1676.9 L1078.9,1670.5 L1079.6,1669.7 L1080.2,1665.6 L1080.8,1667.1 L1081.5,1663.3 L1082.1,1674.5 L1082.7,1665.3 L1083.3,1673.7 L1084.0,1666.7 L1084.6,1675.6 L1085.2,1666.6 L1085.8,1673.5 L1086.5,1678.1 L1087.1,1668.6 L1087.7,1664.0 L1088.3,1679.3 L1089.0,1669.1 L1089.6,1673.0 L1090.2,1662.8 L1090.9,1671.2 L1091.5,1661.8 L1092.1,1673.9 L1092.7,1668.8 L1093.4,1673.6 L1094.0,1674.5 L1094.6,1672.5 L1095.2,1682.8 L1095.9,1681.6 L1096.5,1669.2 L1097.1,1667.8 L1097.8,1668.8 L1098.4,1666.0 L1099.0,1662.4 L1099.6,1674.7 L1100.3,1671.8 L1100.9,1667.4 L1101.5,1683.8 L1102.1,1653.7 L1102.8,1668.3 L1103.4,1665.7 L1104.0,1664.3 L1104.6,1662.5 L1105.3,1671.8 L1105.9,1668.8 L1106.5,1669.8 L1107.2,1669.3 L1107.8,1671.0 L1108.4,1673.7 L1109.0,1675.9 L1109.7,1677.2 L1110.3,1677.2 L1110.9,1666.4 L1111.5,1664.3 L1112.2,1667.4 L1112.8,1664.5 L1113.4,1662.6 L1114.1,1668.5 L1114.7,1671.1 L1115.3,1672.5 L1115.9,1678.4 L1116.6,1660.8 L1117.2,1671.3 L1117.8,1668.3 L1118.4,1672.1 L1119.1,1669.5 L1119.7,1675.0 L1120.3,1669.6 L1120.9,1667.4 L1121.6,1662.3 L1122.2,1662.9 L1122.8,1664.3 L1123.5,1671.1 L1124.1,1659.4 L1124.7,1673.2 L1125.3,1677.8 L1126.0,1653.5 L1126.6,1665.7 L1127.2,1665.6 L1127.8,1672.1 L1128.5,1676.1 L1129.1,1668.2 L1129.7,1669.8 L1130.3,1672.2 L1131.0,1674.0 L1131.6,1674.9 L1132.2,1670.9 L1132.9,1678.7 L1133.5,1668.6 L1134.1,1652.2 L1134.7,1660.1 L1135.4,1675.4 L1136.0,1673.5 L1136.6,1674.5 L1137.2,1666.3 L1137.9,1668.1 L1138.5,1661.0 L1139.1,1668.0 L1139.8,1670.9 L1140.4,1662.5 L1141.0,1666.9 L1141.6,1662.4 L1142.3,1665.9 L1142.9,1672.6 L1143.5,1664.5 L1144.1,1670.4 L1144.8,1666.9 L1145.4,1666.2 L1146.0,1673.3 L1146.6,1676.2 L1147.3,1664.8 L1147.9,1673.1 L1148.5,1667.7 L1149.2,1675.3 L1149.8,1657.3 L1150.4,1672.4 L1151.0,1667.7 L1151.7,1650.7 L1152.3,1666.6 L1152.9,1661.7 L1153.5,1664.4 L1154.2,1658.9 L1154.8,1663.8 L1155.4,1664.9 L1156.1,1665.5 L1156.7,1673.5 L1157.3,1670.1 L1157.9,1670.8 L1158.6,1664.8 L1159.2,1674.6 L1159.8,1673.8 L1160.4,1678.5 L1161.1,1671.3 L1161.7,1674.6 L1162.3,1653.7 L1162.9,1664.1 L1163.6,1669.1 L1164.2,1663.0 L1164.8,1680.7 L1165.5,1664.6 L1166.1,1660.9 L1166.7,1669.5 L1167.3,1669.9 L1168.0,1662.4 L1168.6,1663.5 L1169.2,1662.3 L1169.8,1672.8 L1170.5,1666.2 L1171.1,1673.4 L1171.7,1666.8 L1172.4,1681.6 L1173.0,1664.0 L1173.6,1664.9 L1174.2,1668.4 L1174.9,1666.3 L1175.5,1660.1 L1176.1,1667.3 L1176.7,1658.1 L1177.4,1655.8 L1178.0,1663.9 L1178.6,1675.0 L1179.2,1664.7 L1179.9,1656.8 L1180.5,1668.6 L1181.1,1665.6 L1181.8,1664.1 L1182.4,1656.4 L1183.0,1664.8 L1183.6,1669.9 L1184.3,1662.0 L1184.9,1677.9 L1185.5,1664.5 L1186.1,1680.4 L1186.8,1666.8 L1187.4,1665.0 L1188.0,1669.9 L1188.6,1659.9 L1189.3,1662.4 L1189.9,1664.6 L1190.5,1669.5 L1191.2,1673.2 L1191.8,1673.4 L1192.4,1663.6 L1193.0,1666.7 L1193.7,1667.4 L1194.3,1661.2 L1194.9,1668.6 L1195.5,1664.1 L1196.2,1661.9 L1196.8,1661.7 L1197.4,1670.4 L1198.1,1665.4 L1198.7,1667.3 L1199.3,1666.7 L1199.9,1668.0 L1200.6,1666.4 L1201.2,1662.4 L1201.8,1664.0 L1202.4,1659.1 L1203.1,1664.2 L1203.7,1664.1 L1204.3,1659.7 L1204.9,1671.2 L1205.6,1672.2 L1206.2,1661.3 L1206.8,1668.6 L1207.5,1674.5 L1208.1,1660.9 L1208.7,1658.6 L1209.3,1663.1 L1210.0,1667.9 L1210.6,1658.3 L1211.2,1670.7 L1211.8,1660.9 L1212.5,1674.0 L1213.1,1676.6 L1213.7,1660.1 L1214.4,1664.6 L1215.0,1660.3 L1215.6,1663.9 L1216.2,1656.9 L1216.9,1661.9 L1217.5,1654.9 L1218.1,1675.2 L1218.7,1665.9 L1219.4,1666.6 L1220.0,1660.0 L1220.6,1659.4 L1221.2,1661.3 L1221.9,1665.8 L1222.5,1667.8 L1223.1,1668.6 L1223.8,1665.2 L1224.4,1665.3 L1225.0,1651.8 L1225.6,1651.9 L1226.3,1665.2 L1226.9,1668.5 L1227.5,1671.4 L1228.1,1669.9 L1228.8,1670.5 L1229.4,1662.9 L1230.0,1658.4 L1230.6,1668.9 L1231.3,1666.1 L1231.9,1660.4 L1232.5,1668.8 L1233.2,1670.8 L1233.8,1666.1 L1234.4,1662.2 L1235.0,1659.3 L1235.7,1667.5 L1236.3,1661.7 L1236.9,1660.2 L1237.5,1654.6 L1238.2,1662.2 L1238.8,1650.7 L1239.4,1665.0 L1240.1,1668.9 L1240.7,1666.0 L1241.3,1663.0 L1241.9,1663.1 L1242.6,1666.8 L1243.2,1670.4 L1243.8,1677.5 L1244.4,1655.7 L1245.1,1661.3 L1245.7,1669.6 L1246.3,1666.0 L1246.9,1669.7 L1247.6,1676.7 L1248.2,1670.3 L1248.8,1660.0 L1249.5,1665.3 L1250.1,1665.7 L1250.7,1658.7 L1251.3,1671.9 L1252.0,1659.9 L1252.6,1657.3 L1253.2,1660.3 L1253.8,1658.8 L1254.5,1654.0 L1255.1,1664.2 L1255.7,1667.1 L1256.4,1672.7 L1257.0,1674.4 L1257.6,1670.1 L1258.2,1666.8 L1258.9,1662.3 L1259.5,1668.3 L1260.1,1664.9 L1260.7,1655.7 L1261.4,1669.5 L1262.0,1658.1 L1262.6,1669.7 L1263.2,1667.7 L1263.9,1667.8 L1264.5,1667.3 L1265.1,1663.6 L1265.8,1669.9 L1266.4,1662.6 L1267.0,1665.8 L1267.6,1667.4 L1268.3,1658.7 L1268.9,1662.5 L1269.5,1674.6 L1270.1,1659.7 L1270.8,1664.4 L1271.4,1671.5 L1272.0,1669.3 L1272.7,1662.3 L1273.3,1671.2 L1273.9,1660.9 L1274.5,1672.0 L1275.2,1672.7 L1275.8,1676.3 L1276.4,1666.8 L1277.0,1673.1 L1277.7,1668.2 L1278.3,1664.9 L1278.9,1665.2 L1279.5,1657.6 L1280.2,1658.2 L1280.8,1656.4 L1281.4,1661.6 L1282.1,1664.4 L1282.7,1661.8 L1283.3,1659.4 L1283.9,1660.8 L1284.6,1648.7 L1285.2,1657.6 L1285.8,1665.6 L1286.4,1658.8 L1287.1,1662.5 L1287.7,1640.8 L1288.3,1664.7 L1288.9,1658.7 L1289.6,1663.7 L1290.2,1664.4 L1290.8,1658.2 L1291.5,1657.6 L1292.1,1660.6 L1292.7,1656.3 L1293.3,1670.3 L1294.0,1661.7 L1294.6,1669.3 L1295.2,1658.6 L1295.8,1660.1 L1296.5,1665.6 L1297.1,1660.1 L1297.7,1669.8 L1298.4,1662.3 L1299.0,1665.6 L1299.6,1657.3 L1300.2,1659.6 L1300.9,1654.1 L1301.5,1660.1 L1302.1,1665.9 L1302.7,1668.7 L1303.4,1660.6 L1304.0,1662.6 L1304.6,1670.0 L1305.2,1671.0 L1305.9,1644.7 L1306.5,1656.6 L1307.1,1662.1 L1307.8,1657.9 L1308.4,1662.4 L1309.0,1659.4 L1309.6,1657.6 L1310.3,1661.0 L1310.9,1658.7 L1311.5,1651.9 L1312.1,1663.5 L1312.8,1652.7 L1313.4,1655.7 L1314.0,1670.8 L1314.7,1664.5 L1315.3,1661.0 L1315.9,1663.9 L1316.5,1669.6 L1317.2,1652.0 L1317.8,1656.4 L1318.4,1659.1 L1319.0,1667.8 L1319.7,1659.6 L1320.3,1663.5 L1320.9,1657.7 L1321.5,1649.6 L1322.2,1660.6 L1322.8,1657.2 L1323.4,1656.0 L1324.1,1661.1 L1324.7,1652.6 L1325.3,1658.5 L1325.9,1668.5 L1326.6,1671.3 L1327.2,1652.1 L1327.8,1657.2 L1328.4,1655.8 L1329.1,1664.9 L1329.7,1649.5 L1330.3,1662.2 L1331.0,1656.6 L1331.6,1661.2 L1332.2,1665.8 L1332.8,1665.0 L1333.5,1643.8 L1334.1,1666.0 L1334.7,1662.7 L1335.3,1658.4 L1336.0,1663.4 L1336.6,1662.8 L1337.2,1656.3 L1337.8,1659.6 L1338.5,1664.1 L1339.1,1657.7 L1339.7,1663.0 L1340.4,1656.7 L1341.0,1671.1 L1341.6,1663.1 L1342.2,1669.4 L1342.9,1661.3 L1343.5,1654.6 L1344.1,1653.7 L1344.7,1658.1 L1345.4,1658.7 L1346.0,1677.0 L1346.6,1670.2 L1347.2,1660.9 L1347.9,1657.1 L1348.5,1662.0 L1349.1,1657.6 L1349.8,1669.3 L1350.4,1675.3 L1351.0,1662.1 L1351.6,1657.8 L1352.3,1660.5 L1352.9,1664.8 L1353.5,1663.8 L1354.1,1674.0 L1354.8,1663.2 L1355.4,1673.7 L1356.0,1661.9 L1356.7,1662.4 L1357.3,1652.8 L1357.9,1673.4 L1358.5,1666.5 L1359.2,1660.5 L1359.8,1664.9 L1360.4,1671.7 L1361.0,1676.0 L1361.7,1660.3 L1362.3,1665.8 L1362.9,1661.7 L1363.5,1658.4 L1364.2,1660.4 L1364.8,1658.0 L1365.4,1663.3 L1366.1,1670.4 L1366.7,1668.4 L1367.3,1661.2 L1367.9,1656.8 L1368.6,1663.5 L1369.2,1660.8 L1369.8,1661.9 L1370.4,1651.4 L1371.1,1657.4 L1371.7,1655.2 L1372.3,1656.9 L1373.0,1663.8 L1373.6,1660.6 L1374.2,1663.7 L1374.8,1652.5 L1375.5,1661.7 L1376.1,1666.5 L1376.7,1668.7 L1377.3,1665.2 L1378.0,1685.6 L1378.6,1651.8 L1379.2,1654.4 L1379.8,1661.1 L1380.5,1661.0 L1381.1,1650.1 L1381.7,1674.0 L1382.4,1669.2 L1383.0,1662.1 L1383.6,1672.1 L1384.2,1673.6 L1384.9,1666.2 L1385.5,1663.9 L1386.1,1650.2 L1386.7,1670.7 L1387.4,1663.6 L1388.0,1664.7 L1388.6,1658.9 L1389.3,1663.7 L1389.9,1668.9 L1390.5,1650.7 L1391.1,1669.3 L1391.8,1658.7 L1392.4,1664.5 L1393.0,1662.2 L1393.6,1652.1 L1394.3,1676.0 L1394.9,1664.4 L1395.5,1660.1 L1396.1,1657.8 L1396.8,1658.4 L1397.4,1663.4 L1398.0,1671.4 L1398.7,1654.3 L1399.3,1663.3 L1399.9,1666.8 L1400.5,1663.9 L1401.2,1650.9 L1401.8,1664.9 L1402.4,1669.7 L1403.0,1653.3 L1403.7,1663.2 L1404.3,1653.3 L1404.9,1670.8 L1405.5,1657.2 L1406.2,1661.6 L1406.8,1668.4 L1407.4,1658.2 L1408.1,1669.7 L1408.7,1647.5 L1409.3,1665.3 L1409.9,1664.7 L1410.6,1666.8 L1411.2,1663.2 L1411.8,1665.1 L1412.4,1655.2 L1413.1,1669.3 L1413.7,1666.6 L1414.3,1672.6 L1415.0,1658.7 L1415.6,1667.3 L1416.2,1666.6 L1416.8,1655.0 L1417.5,1654.7 L1418.1,1662.3 L1418.7,1660.9 L1419.3,1666.6 L1420.0,1656.6 L1420.6,1652.3 L1421.2,1670.5 L1421.8,1668.3 L1422.5,1656.1 L1423.1,1671.7 L1423.7,1670.7 L1424.4,1666.5 L1425.0,1660.5 L1425.6,1677.3 L1426.2,1664.5 L1426.9,1660.5 L1427.5,1650.8 L1428.1,1662.1 L1428.7,1665.6 L1429.4,1663.8 L1430.0,1669.8 L1430.6,1677.7 L1431.3,1652.6 L1431.9,1664.4 L1432.5,1654.4 L1433.1,1660.9 L1433.8,1663.9 L1434.4,1668.5 L1435.0,1665.3 L1435.6,1658.4 L1436.3,1668.7 L1436.9,1656.8 L1437.5,1653.3 L1438.1,1661.6 L1438.8,1650.7 L1439.4,1667.5 L1440.0,1663.2 L1440.7,1650.9 L1441.3,1673.8 L1441.9,1676.1 L1442.5,1667.6 L1443.2,1667.3 L1443.8,1672.0 L1444.4,1654.6 L1445.0,1655.4 L1445.7,1659.0 L1446.3,1651.8 L1446.9,1668.2 L1447.6,1660.6 L1448.2,1667.7 L1448.8,1665.3 L1449.4,1675.5 L1450.1,1659.2 L1450.7,1661.3 L1451.3,1648.4 L1451.9,1656.9 L1452.6,1649.4 L1453.2,1657.8 L1453.8,1639.0 L1454.4,1667.4 L1455.1,1664.2 L1455.7,1657.4 L1456.3,1666.4 L1457.0,1665.3 L1457.6,1654.7 L1458.2,1668.0 L1458.8,1661.8 L1459.5,1670.0 L1460.1,1659.0 L1460.7,1665.2 L1461.3,1662.9 L1462.0,1664.1 L1462.6,1657.5 L1463.2,1658.1 L1463.8,1663.1 L1464.5,1662.9 L1465.1,1664.0 L1465.7,1662.4 L1466.4,1661.3 L1467.0,1674.4 L1467.6,1653.0 L1468.2,1664.3 L1468.9,1650.3 L1469.5,1659.7 L1470.1,1660.5 L1470.7,1664.1 L1471.4,1665.8 L1472.0,1662.4 L1472.6,1660.2 L1473.3,1666.1 L1473.9,1680.1 L1474.5,1658.1 L1475.1,1673.6 L1475.8,1657.7" fill="none" stroke="#000" stroke-width="5.3" stroke-linejoin="round" stroke-linecap="round"/>
<path d="M339.1,1731.4 L340.7,1724.1 L342.1,1692.0 L343.3,1692.0 L344.7,1724.1 L346.3,1731.4 Z" fill="#000" stroke="#000" stroke-width="4.2" stroke-linejoin="round"/>
<path d="M461.9,1730.9 L463.3,1726.2 L464.3,1714.0 L465.5,1714.0 L466.6,1726.2 L467.9,1730.9 Z" fill="#000" stroke="#000" stroke-width="4.2" stroke-linejoin="round"/>
<path d="M536.4,1730.4 L538.5,1621.5 L540.5,845.1 L541.7,845.1 L543.7,1621.5 L545.8,1730.4 Z" fill="#000" stroke="#000" stroke-width="4.2" stroke-linejoin="round"/>
<path d="M723.6,1722.8 L725.0,1715.3 L726.0,1682.3 L727.2,1682.3 L728.3,1715.3 L729.6,1722.8 Z" fill="#000" stroke="#000" stroke-width="4.2" stroke-linejoin="round"/>
<path d="M890.6,1706.4 L892.5,1676.1 L894.2,1476.5 L895.4,1476.5 L897.1,1676.1 L899.0,1706.4 Z" fill="#000" stroke="#000" stroke-width="4.2" stroke-linejoin="round"/>
<rect x="218.40" y="702.50" width="5.20" height="1061.30" fill="#000"/>
<rect x="218.40" y="1758.70" width="1259.96" height="5.20" fill="#000"/>
<rect x="210.50" y="1758.90" width="10.50" height="4.80" fill="#000"/>
<rect x="210.50" y="1547.60" width="10.50" height="4.80" fill="#000"/>
<rect x="210.50" y="1336.30" width="10.50" height="4.80" fill="#000"/>
<rect x="210.50" y="1125.00" width="10.50" height="4.80" fill="#000"/>
<rect x="210.50" y="913.70" width="10.50" height="4.80" fill="#000"/>
<rect x="210.50" y="702.40" width="10.50" height="4.80" fill="#000"/>
<rect x="219.50" y="1761.30" width="5.00" height="11.00" fill="#000"/>
<rect x="376.22" y="1761.30" width="5.00" height="11.00" fill="#000"/>
<rect x="532.94" y="1761.30" width="5.00" height="11.00" fill="#000"/>
<rect x="689.66" y="1761.30" width="5.00" height="11.00" fill="#000"/>
<rect x="846.38" y="1761.30" width="5.00" height="11.00" fill="#000"/>
<rect x="1003.10" y="1761.30" width="5.00" height="11.00" fill="#000"/>
<rect x="1159.82" y="1761.30" width="5.00" height="11.00" fill="#000"/>
<rect x="1316.54" y="1761.30" width="5.00" height="11.00" fill="#000"/>
<rect x="1473.26" y="1761.30" width="5.00" height="11.00" fill="#000"/>
<text x="191.2" y="1771.9" font-size="33" font-family='"Liberation Sans", Arial, Helvetica, sans-serif' font-weight="bold" text-anchor="end" fill="#0a0a0a" textLength="17.5" lengthAdjust="spacingAndGlyphs" >0</text>
<text x="191.2" y="1560.6" font-size="33" font-family='"Liberation Sans", Arial, Helvetica, sans-serif' font-weight="bold" text-anchor="end" fill="#0a0a0a" textLength="70.0" lengthAdjust="spacingAndGlyphs" >5000</text>
<text x="191.2" y="1349.3" font-size="33" font-family='"Liberation Sans", Arial, Helvetica, sans-serif' font-weight="bold" text-anchor="end" fill="#0a0a0a" textLength="87.5" lengthAdjust="spacingAndGlyphs" >10000</text>
<text x="191.2" y="1138.0" font-size="33" font-family='"Liberation Sans", Arial, Helvetica, sans-serif' font-weight="bold" text-anchor="end" fill="#0a0a0a" textLength="87.5" lengthAdjust="spacingAndGlyphs" >15000</text>
<text x="191.2" y="926.7" font-size="33" font-family='"Liberation Sans", Arial, Helvetica, sans-serif' font-weight="bold" text-anchor="end" fill="#0a0a0a" textLength="87.5" lengthAdjust="spacingAndGlyphs" >20000</text>
<text x="191.2" y="715.4" font-size="33" font-family='"Liberation Sans", Arial, Helvetica, sans-serif' font-weight="bold" text-anchor="end" fill="#0a0a0a" textLength="87.5" lengthAdjust="spacingAndGlyphs" >25000</text>
<text x="222.0" y="1816.0" font-size="33" font-family='"Liberation Sans", Arial, Helvetica, sans-serif' font-weight="bold" text-anchor="middle" fill="#0a0a0a" textLength="35.5" lengthAdjust="spacingAndGlyphs" >22</text>
<text x="378.7" y="1816.0" font-size="33" font-family='"Liberation Sans", Arial, Helvetica, sans-serif' font-weight="bold" text-anchor="middle" fill="#0a0a0a" textLength="35.5" lengthAdjust="spacingAndGlyphs" >23</text>
<text x="535.4" y="1816.0" font-size="33" font-family='"Liberation Sans", Arial, Helvetica, sans-serif' font-weight="bold" text-anchor="middle" fill="#0a0a0a" textLength="35.5" lengthAdjust="spacingAndGlyphs" >24</text>
<text x="692.2" y="1816.0" font-size="33" font-family='"Liberation Sans", Arial, Helvetica, sans-serif' font-weight="bold" text-anchor="middle" fill="#0a0a0a" textLength="35.5" lengthAdjust="spacingAndGlyphs" >25</text>
<text x="848.9" y="1816.0" font-size="33" font-family='"Liberation Sans", Arial, Helvetica, sans-serif' font-weight="bold" text-anchor="middle" fill="#0a0a0a" textLength="35.5" lengthAdjust="spacingAndGlyphs" >26</text>
<text x="1005.6" y="1816.0" font-size="33" font-family='"Liberation Sans", Arial, Helvetica, sans-serif' font-weight="bold" text-anchor="middle" fill="#0a0a0a" textLength="35.5" lengthAdjust="spacingAndGlyphs" >27</text>
<text x="1162.3" y="1816.0" font-size="33" font-family='"Liberation Sans", Arial, Helvetica, sans-serif' font-weight="bold" text-anchor="middle" fill="#0a0a0a" textLength="35.5" lengthAdjust="spacingAndGlyphs" >28</text>
<text x="1319.0" y="1816.0" font-size="33" font-family='"Liberation Sans", Arial, Helvetica, sans-serif' font-weight="bold" text-anchor="middle" fill="#0a0a0a" textLength="35.5" lengthAdjust="spacingAndGlyphs" >29</text>
<text x="1475.8" y="1816.0" font-size="33" font-family='"Liberation Sans", Arial, Helvetica, sans-serif' font-weight="bold" text-anchor="middle" fill="#0a0a0a" textLength="35.5" lengthAdjust="spacingAndGlyphs" >30</text>
<text x="733.0" y="1870.0" font-size="33" font-family='"Liberation Sans", Arial, Helvetica, sans-serif' font-weight="bold" text-anchor="start" fill="#0a0a0a" textLength="231.5" lengthAdjust="spacingAndGlyphs" >time, minutes</text>
<text x="85.2" y="1233.3" font-size="35" font-family='"Liberation Sans", Arial, Helvetica, sans-serif' font-weight="bold" text-anchor="middle" fill="#0a0a0a" textLength="182.0" lengthAdjust="spacingAndGlyphs" transform="rotate(-90 85.2 1233.3)" >abundance</text>
<text x="286.0" y="862.0" font-size="104" font-family='"Liberation Sans", Arial, Helvetica, sans-serif' font-weight="bold" fill="#000" textLength="125.0" lengthAdjust="spacingAndGlyphs" stroke-linejoin="round"><tspan font-weight="normal" stroke="#000" stroke-width="3.2">(</tspan><tspan stroke="#fff" stroke-width="1.6" paint-order="fill stroke">a</tspan><tspan font-weight="normal" stroke="#000" stroke-width="3.2">)</tspan></text>
</g>
<g id="panel-c" filter="url(#soft05)">
<rect x="1442.50" y="1348.00" width="3.60" height="155.30" fill="#222"/>
<rect x="1448.00" y="1309.50" width="3.60" height="193.80" fill="#111"/>
<rect x="1684.50" y="1345.50" width="3.60" height="157.80" fill="#111"/>
<rect x="1772.20" y="1314.40" width="3.60" height="188.90" fill="#111"/>
<rect x="1779.20" y="1362.80" width="3.60" height="140.50" fill="#111"/>
<rect x="1862.50" y="1278.00" width="2.00" height="225.30" fill="#555"/>
<rect x="1868.00" y="1375.00" width="3.60" height="128.30" fill="#000"/>
<rect x="1871.00" y="1364.60" width="3.60" height="138.70" fill="#000"/>
<rect x="1955.70" y="1161.60" width="3.60" height="341.70" fill="#111"/>
<rect x="1975.70" y="1183.40" width="3.60" height="319.90" fill="#222"/>
<rect x="2066.20" y="1350.50" width="3.60" height="152.80" fill="#222"/>
<rect x="2104.20" y="959.70" width="3.60" height="543.60" fill="#222"/>
<rect x="2107.35" y="1339.30" width="4.50" height="164.00" fill="#000"/>
<rect x="2124.40" y="1208.60" width="3.60" height="294.70" fill="#000"/>
<rect x="2127.40" y="1245.00" width="4.00" height="258.30" fill="#000"/>
<rect x="2130.80" y="1161.60" width="3.60" height="341.70" fill="#000"/>
<rect x="2215.80" y="1019.00" width="3.60" height="484.30" fill="#000"/>
<rect x="2218.80" y="1206.00" width="3.60" height="297.30" fill="#000"/>
<rect x="2221.40" y="1289.00" width="4.00" height="214.30" fill="#000"/>
<rect x="1360.20" y="882.00" width="4.20" height="623.40" fill="#111"/>
<rect x="1360.20" y="1501.20" width="975.40" height="4.20" fill="#1a1a1a"/>
<rect x="1351.30" y="1502.00" width="11.00" height="2.60" fill="#333"/>
<rect x="1351.30" y="1413.25" width="11.00" height="2.60" fill="#333"/>
<rect x="1351.30" y="1324.50" width="11.00" height="2.60" fill="#333"/>
<rect x="1351.30" y="1235.75" width="11.00" height="2.60" fill="#333"/>
<rect x="1351.30" y="1147.00" width="11.00" height="2.60" fill="#333"/>
<rect x="1351.30" y="1058.25" width="11.00" height="2.60" fill="#333"/>
<rect x="1351.30" y="969.50" width="11.00" height="2.60" fill="#333"/>
<rect x="1351.30" y="880.75" width="11.00" height="2.60" fill="#333"/>
<rect x="1361.00" y="1503.30" width="2.60" height="9.00" fill="#444"/>
<rect x="1522.72" y="1503.30" width="2.60" height="9.00" fill="#444"/>
<rect x="1684.45" y="1503.30" width="2.60" height="9.00" fill="#444"/>
<rect x="1846.17" y="1503.30" width="2.60" height="9.00" fill="#444"/>
<rect x="2007.90" y="1503.30" width="2.60" height="9.00" fill="#444"/>
<rect x="2169.62" y="1503.30" width="2.60" height="9.00" fill="#444"/>
<rect x="2331.35" y="1503.30" width="2.60" height="9.00" fill="#444"/>
<text x="1335.8" y="1513.0" font-size="31" font-family='"Liberation Sans", Arial, Helvetica, sans-serif' font-weight="bold" text-anchor="end" fill="#0a0a14" textLength="17.9" lengthAdjust="spacingAndGlyphs" >0</text>
<text x="1335.8" y="1424.2" font-size="31" font-family='"Liberation Sans", Arial, Helvetica, sans-serif' font-weight="bold" text-anchor="end" fill="#0a0a14" textLength="53.7" lengthAdjust="spacingAndGlyphs" >100</text>
<text x="1335.8" y="1335.5" font-size="31" font-family='"Liberation Sans", Arial, Helvetica, sans-serif' font-weight="bold" text-anchor="end" fill="#0a0a14" textLength="53.7" lengthAdjust="spacingAndGlyphs" >200</text>
<text x="1335.8" y="1246.8" font-size="31" font-family='"Liberation Sans", Arial, Helvetica, sans-serif' font-weight="bold" text-anchor="end" fill="#0a0a14" textLength="53.7" lengthAdjust="spacingAndGlyphs" >300</text>
<text x="1335.8" y="1158.0" font-size="31" font-family='"Liberation Sans", Arial, Helvetica, sans-serif' font-weight="bold" text-anchor="end" fill="#0a0a14" textLength="53.7" lengthAdjust="spacingAndGlyphs" >400</text>
<text x="1335.8" y="1069.2" font-size="31" font-family='"Liberation Sans", Arial, Helvetica, sans-serif' font-weight="bold" text-anchor="end" fill="#0a0a14" textLength="53.7" lengthAdjust="spacingAndGlyphs" >500</text>
<text x="1335.8" y="980.5" font-size="31" font-family='"Liberation Sans", Arial, Helvetica, sans-serif' font-weight="bold" text-anchor="end" fill="#0a0a14" textLength="53.7" lengthAdjust="spacingAndGlyphs" >600</text>
<text x="1335.8" y="891.8" font-size="31" font-family='"Liberation Sans", Arial, Helvetica, sans-serif' font-weight="bold" text-anchor="end" fill="#0a0a14" textLength="53.7" lengthAdjust="spacingAndGlyphs" >700</text>
<text x="1361.5" y="1553.2" font-size="31" font-family='"Liberation Sans", Arial, Helvetica, sans-serif' font-weight="bold" text-anchor="middle" fill="#0a0a14" textLength="35.8" lengthAdjust="spacingAndGlyphs" >50</text>
<text x="1523.2" y="1553.2" font-size="31" font-family='"Liberation Sans", Arial, Helvetica, sans-serif' font-weight="bold" text-anchor="middle" fill="#0a0a14" textLength="53.7" lengthAdjust="spacingAndGlyphs" >100</text>
<text x="1685.0" y="1553.2" font-size="31" font-family='"Liberation Sans", Arial, Helvetica, sans-serif' font-weight="bold" text-anchor="middle" fill="#0a0a14" textLength="53.7" lengthAdjust="spacingAndGlyphs" >150</text>
<text x="1846.7" y="1553.2" font-size="31" font-family='"Liberation Sans", Arial, Helvetica, sans-serif' font-weight="bold" text-anchor="middle" fill="#0a0a14" textLength="53.7" lengthAdjust="spacingAndGlyphs" >200</text>
<text x="2008.4" y="1553.2" font-size="31" font-family='"Liberation Sans", Arial, Helvetica, sans-serif' font-weight="bold" text-anchor="middle" fill="#0a0a14" textLength="53.7" lengthAdjust="spacingAndGlyphs" >250</text>
<text x="2170.1" y="1553.2" font-size="31" font-family='"Liberation Sans", Arial, Helvetica, sans-serif' font-weight="bold" text-anchor="middle" fill="#0a0a14" textLength="53.7" lengthAdjust="spacingAndGlyphs" >300</text>
<text x="2331.8" y="1553.2" font-size="31" font-family='"Liberation Sans", Arial, Helvetica, sans-serif' font-weight="bold" text-anchor="middle" fill="#0a0a14" textLength="53.7" lengthAdjust="spacingAndGlyphs" >350</text>
<text x="1252.3" y="1189.0" font-size="37.5" font-family='"Liberation Sans", Arial, Helvetica, sans-serif' font-weight="bold" text-anchor="middle" fill="#0a0a0a" textLength="185.0" lengthAdjust="spacingAndGlyphs" transform="rotate(-90 1252.3 1189.0)" >Abundance</text>
<text x="1848.0" y="1613.6" font-size="36" font-family='"Liberation Sans", Arial, Helvetica, sans-serif' font-weight="bold" text-anchor="middle" fill="#0a0a0a" textLength="63.0" lengthAdjust="spacingAndGlyphs" >m/z</text>
<text x="1427.5" y="872.0" font-size="101" font-family='"Liberation Sans", Arial, Helvetica, sans-serif' font-weight="bold" fill="#000" textLength="115.0" lengthAdjust="spacingAndGlyphs" stroke-linejoin="round"><tspan font-weight="normal" stroke="#000" stroke-width="3.2">(</tspan><tspan stroke="#fff" stroke-width="1.6" paint-order="fill stroke">c</tspan><tspan font-weight="normal" stroke="#000" stroke-width="3.2">)</tspan></text>
<text x="1452.0" y="1296.0" font-size="34" font-family='"Liberation Serif", "Times New Roman", serif' font-weight="normal" text-anchor="middle" fill="#222" textLength="36.5" lengthAdjust="spacingAndGlyphs" >77</text>
<text x="1699.5" y="1332.0" font-size="34" font-family='"Liberation Serif", "Times New Roman", serif' font-weight="normal" text-anchor="middle" fill="#222" textLength="55.0" lengthAdjust="spacingAndGlyphs" >150</text>
<text x="1790.0" y="1296.0" font-size="34" font-family='"Liberation Serif", "Times New Roman", serif' font-weight="normal" text-anchor="middle" fill="#222" textLength="55.0" lengthAdjust="spacingAndGlyphs" >177</text>
<text x="1880.0" y="1269.0" font-size="34" font-family='"Liberation Serif", "Times New Roman", serif' font-weight="normal" text-anchor="middle" fill="#222" textLength="55.0" lengthAdjust="spacingAndGlyphs" >207</text>
<text x="1959.5" y="1150.5" font-size="34" font-family='"Liberation Serif", "Times New Roman", serif' font-weight="normal" text-anchor="middle" fill="#222" textLength="55.0" lengthAdjust="spacingAndGlyphs" >234</text>
<text x="2113.5" y="952.0" font-size="34" font-family='"Liberation Serif", "Times New Roman", serif' font-weight="normal" text-anchor="middle" fill="#222" textLength="55.0" lengthAdjust="spacingAndGlyphs" >280</text>
<text x="2150.5" y="1150.5" font-size="34" font-family='"Liberation Serif", "Times New Roman", serif' font-weight="normal" text-anchor="middle" fill="#222" textLength="55.0" lengthAdjust="spacingAndGlyphs" >288</text>
<text x="2214.5" y="1011.0" font-size="34" font-family='"Liberation Serif", "Times New Roman", serif' font-weight="normal" text-anchor="middle" fill="#222" textLength="55.0" lengthAdjust="spacingAndGlyphs" >314</text>
<line x1="1651.3" y1="947.6" x2="1698.7" y2="975.8" stroke="#2a2a2a" stroke-width="2.5" stroke-linecap="round"/>
<line x1="1698.7" y1="975.8" x2="1698.7" y2="1031.1" stroke="#2a2a2a" stroke-width="2.5" stroke-linecap="round"/>
<line x1="1698.7" y1="1031.1" x2="1651.3" y2="1058.9" stroke="#2a2a2a" stroke-width="2.5" stroke-linecap="round"/>
<line x1="1651.3" y1="1058.9" x2="1602.9" y2="1031.1" stroke="#2a2a2a" stroke-width="2.5" stroke-linecap="round"/>
<line x1="1602.9" y1="1031.1" x2="1602.9" y2="975.8" stroke="#2a2a2a" stroke-width="2.5" stroke-linecap="round"/>
<line x1="1602.9" y1="975.8" x2="1651.3" y2="947.6" stroke="#2a2a2a" stroke-width="2.5" stroke-linecap="round"/>
<line x1="1653.0" y1="957.8" x2="1689.0" y2="979.2" stroke="#2a2a2a" stroke-width="2.5" stroke-linecap="round"/>
<line x1="1689.0" y1="1027.6" x2="1653.0" y2="1048.8" stroke="#2a2a2a" stroke-width="2.5" stroke-linecap="round"/>
<line x1="1610.8" y1="1024.4" x2="1610.8" y2="982.4" stroke="#2a2a2a" stroke-width="2.5" stroke-linecap="round"/>
<line x1="1731.1" y1="1121.3" x2="1770.0" y2="1156.8" stroke="#2a2a2a" stroke-width="2.5" stroke-linecap="round"/>
<line x1="1770.0" y1="1156.8" x2="1760.0" y2="1212.1" stroke="#2a2a2a" stroke-width="2.5" stroke-linecap="round"/>
<line x1="1760.0" y1="1212.1" x2="1706.1" y2="1229.2" stroke="#2a2a2a" stroke-width="2.5" stroke-linecap="round"/>
<line x1="1706.1" y1="1229.2" x2="1666.1" y2="1192.4" stroke="#2a2a2a" stroke-width="2.5" stroke-linecap="round"/>
<line x1="1666.1" y1="1192.4" x2="1676.3" y2="1137.1" stroke="#2a2a2a" stroke-width="2.5" stroke-linecap="round"/>
<line x1="1676.3" y1="1137.1" x2="1731.1" y2="1121.3" stroke="#2a2a2a" stroke-width="2.5" stroke-linecap="round"/>
<line x1="1761.0" y1="1162.1" x2="1753.4" y2="1204.1" stroke="#2a2a2a" stroke-width="2.5" stroke-linecap="round"/>
<line x1="1706.6" y1="1219.0" x2="1676.2" y2="1191.0" stroke="#2a2a2a" stroke-width="2.5" stroke-linecap="round"/>
<line x1="1685.1" y1="1142.8" x2="1726.7" y2="1130.8" stroke="#2a2a2a" stroke-width="2.5" stroke-linecap="round"/>
<line x1="1698.7" y1="975.8" x2="1726.6" y2="954.7" stroke="#2a2a2a" stroke-width="2.5" stroke-linecap="round"/>
<line x1="1757.4" y1="945.5" x2="1797.6" y2="954.7" stroke="#2a2a2a" stroke-width="2.5" stroke-linecap="round"/>
<line x1="1797.6" y1="954.7" x2="1821.1" y2="924.7" stroke="#2a2a2a" stroke-width="2.5" stroke-linecap="round"/>
<line x1="1792.1" y1="949.5" x2="1815.3" y2="920.0" stroke="#2a2a2a" stroke-width="2.5" stroke-linecap="round"/>
<line x1="1797.6" y1="954.7" x2="1819.2" y2="1003.7" stroke="#2a2a2a" stroke-width="2.5" stroke-linecap="round"/>
<line x1="1819.2" y1="1003.7" x2="1803.7" y2="1037.1" stroke="#2a2a2a" stroke-width="2.5" stroke-linecap="round"/>
<line x1="1783.2" y1="1055.5" x2="1740.3" y2="1066.1" stroke="#2a2a2a" stroke-width="2.5" stroke-linecap="round"/>
<line x1="1781.1" y1="1047.9" x2="1746.8" y2="1056.3" stroke="#2a2a2a" stroke-width="2.5" stroke-linecap="round"/>
<line x1="1740.3" y1="1066.1" x2="1698.7" y2="1031.1" stroke="#2a2a2a" stroke-width="2.5" stroke-linecap="round"/>
<line x1="1740.3" y1="1066.1" x2="1731.1" y2="1121.3" stroke="#2a2a2a" stroke-width="2.5" stroke-linecap="round"/>
<line x1="1770.0" y1="1156.8" x2="1809.5" y2="1145.3" stroke="#2a2a2a" stroke-width="2.5" stroke-linecap="round"/>
<line x1="1602.9" y1="1031.1" x2="1581.6" y2="1043.7" stroke="#2a2a2a" stroke-width="2.5" stroke-linecap="round"/>
<line x1="1542.1" y1="1051.6" x2="1521.1" y2="1041.1" stroke="#2a2a2a" stroke-width="2.5" stroke-linecap="round"/>
<line x1="1545.5" y1="1045.0" x2="1524.5" y2="1034.5" stroke="#2a2a2a" stroke-width="2.5" stroke-linecap="round"/>
<line x1="1554.2" y1="1073.9" x2="1554.2" y2="1096.8" stroke="#2a2a2a" stroke-width="2.5" stroke-linecap="round"/>
<text x="1738.4" y="925.8" font-size="33" font-family='"Liberation Serif", "Times New Roman", serif' font-weight="normal" text-anchor="middle" fill="#2a2a2a" >H</text>
<text x="1742.9" y="953.7" font-size="33" font-family='"Liberation Serif", "Times New Roman", serif' font-weight="normal" text-anchor="middle" fill="#2a2a2a" >N</text>
<text x="1830.5" y="922.1" font-size="33" font-family='"Liberation Serif", "Times New Roman", serif' font-weight="normal" text-anchor="middle" fill="#2a2a2a" >O</text>
<text x="1796.3" y="1065.3" font-size="33" font-family='"Liberation Serif", "Times New Roman", serif' font-weight="normal" text-anchor="middle" fill="#2a2a2a" >N</text>
<text x="1812.6" y="1152.1" font-size="33" font-family='"Liberation Serif", "Times New Roman", serif' font-weight="normal" text-anchor="start" fill="#2a2a2a" >Cl</text>
<text x="1506.8" y="1044.2" font-size="33" font-family='"Liberation Serif", "Times New Roman", serif' font-weight="normal" text-anchor="middle" fill="#2a2a2a" >O</text>
<text x="1553.4" y="1072.6" font-size="33" font-family='"Liberation Serif", "Times New Roman", serif' font-weight="normal" text-anchor="middle" fill="#2a2a2a" >N</text>
<text x="1554.2" y="1126.6" font-size="33" font-family='"Liberation Serif", "Times New Roman", serif' font-weight="normal" text-anchor="middle" fill="#2a2a2a" >O</text>
<text x="1572.1" y="1051.6" font-size="17" font-family='"Liberation Serif", "Times New Roman", serif' font-weight="normal" text-anchor="middle" fill="#2a2a2a" >+</text>
<text x="1571.1" y="1106.1" font-size="17" font-family='"Liberation Serif", "Times New Roman", serif' font-weight="normal" text-anchor="middle" fill="#2a2a2a" >−</text>
</g>
<g id="panel-d">
<g id="panel-d-curves" filter="url(#soft15)">
<defs><clipPath id="clipd"><rect x="0" y="1950" width="1852.6" height="1532"/></clipPath></defs>
<path d="M1266.5,2554.0 C1256.0,2554.3 1245.8,2554.6 1235.0,2555.0 C1223.6,2555.4 1210.7,2555.6 1200.0,2556.4 C1191.0,2557.1 1182.8,2557.6 1175.0,2559.0 C1167.9,2560.2 1161.2,2564.4 1155.0,2564.0 C1149.3,2563.6 1145.3,2558.6 1139.0,2557.5 C1130.7,2556.1 1119.0,2558.8 1109.0,2559.0 C1099.0,2559.2 1087.9,2558.3 1079.0,2558.5 C1071.9,2558.6 1066.1,2557.7 1060.0,2559.5 C1053.4,2561.5 1047.1,2566.4 1041.0,2570.7 C1034.6,2575.1 1028.3,2579.9 1022.4,2585.7 C1015.8,2592.2 1009.7,2600.4 1003.6,2608.3 C997.2,2616.6 990.5,2625.7 984.8,2634.6 C979.3,2643.3 974.7,2651.9 969.8,2661.0 C964.7,2670.6 959.6,2680.6 954.7,2691.0 C949.6,2701.9 944.4,2713.3 939.7,2724.8 C935.0,2736.3 930.8,2750.2 926.5,2760.0 C923.3,2767.4 920.4,2771.7 917.0,2779.0 C912.5,2788.6 907.3,2802.4 902.0,2812.8 C897.2,2822.2 891.7,2831.0 887.0,2839.0 C883.0,2845.9 878.8,2850.7 875.8,2858.0 C872.2,2866.6 870.3,2876.9 868.0,2888.0 C865.2,2901.4 863.2,2917.4 860.8,2933.0 C858.2,2949.9 855.2,2968.1 853.0,2985.7 C850.8,3003.1 849.6,3022.0 847.6,3038.0 C845.9,3051.7 844.3,3065.3 842.0,3076.0 C840.3,3084.0 838.6,3092.1 836.0,3096.6 C834.4,3099.2 832.4,3102.1 830.7,3102.0 C828.8,3101.9 826.5,3098.4 825.0,3094.7 C822.0,3087.2 822.0,3070.8 821.0,3057.0 C819.7,3040.1 819.9,3018.5 818.6,3000.8 C817.4,2984.9 816.8,2968.2 813.8,2955.6 C811.5,2946.0 808.8,2938.1 804.4,2931.0 C800.3,2924.4 795.2,2918.2 789.0,2914.0 C782.7,2909.8 774.0,2907.3 766.8,2906.0 C760.4,2904.9 753.9,2906.6 748.0,2906.0 C742.7,2905.5 738.5,2902.9 733.0,2903.0 C726.1,2903.1 717.3,2905.3 710.0,2908.6 C702.2,2912.1 694.6,2917.9 687.8,2923.7 C680.9,2929.6 674.5,2936.4 669.0,2944.0 C663.2,2952.0 658.2,2960.5 654.0,2970.7 C649.1,2982.7 646.0,2997.1 642.7,3012.0 C638.9,3029.2 636.2,3050.3 633.0,3068.0 C630.1,3084.0 627.3,3098.3 624.5,3113.5" fill="none" stroke="#000" stroke-width="7.0" stroke-linejoin="round" stroke-linecap="round"/>
<path d="M624.5,3113.5 C626.2,3088.3 627.7,3063.1 629.5,3038.0 C631.2,3013.0 632.5,2988.0 635.0,2963.0 C637.5,2938.0 641.2,2911.6 644.6,2888.0 C647.6,2866.8 650.5,2847.2 654.0,2827.8 C657.3,2809.6 660.2,2790.9 665.0,2775.0 C669.2,2761.3 673.9,2748.7 680.0,2737.6 C685.5,2727.6 692.4,2719.0 699.0,2711.0 C705.1,2703.6 709.9,2697.2 717.9,2691.0 C727.8,2683.3 742.8,2676.6 755.5,2670.3 C767.9,2664.1 780.5,2659.1 793.0,2653.4 C805.6,2647.6 819.0,2641.9 830.7,2635.7 C841.5,2630.0 851.8,2624.4 860.8,2617.7 C869.2,2611.4 875.8,2603.9 883.3,2597.0 C890.8,2590.1 898.1,2582.1 905.9,2576.3 C913.1,2571.0 920.1,2566.8 928.4,2563.2 C937.5,2559.2 948.1,2556.6 958.5,2553.8 C969.4,2550.9 981.7,2548.5 992.3,2546.2 C1001.6,2544.2 1011.3,2543.6 1018.6,2540.6 C1024.6,2538.2 1029.4,2535.4 1033.7,2531.2 C1038.3,2526.7 1041.5,2520.7 1045.0,2514.3 C1049.1,2506.7 1052.6,2497.1 1056.2,2488.0 C1060.1,2478.3 1064.1,2465.8 1067.5,2457.9 C1069.8,2452.6 1071.9,2447.5 1074.0,2445.0 C1075.1,2443.7 1076.2,2442.5 1077.3,2442.5 C1078.5,2442.5 1079.9,2443.6 1081.0,2445.0 C1083.0,2447.5 1084.5,2453.2 1086.0,2458.0 C1087.7,2463.6 1088.8,2470.5 1090.5,2476.7 C1092.3,2483.0 1093.5,2490.8 1096.5,2495.5 C1098.8,2499.1 1101.0,2501.6 1105.0,2503.5 C1111.1,2506.3 1122.4,2505.9 1131.4,2506.5 C1140.7,2507.1 1150.8,2506.4 1160.0,2507.0 C1168.6,2507.6 1176.3,2509.2 1185.0,2510.0 C1194.5,2510.9 1205.5,2512.3 1215.0,2512.0 C1223.7,2511.8 1232.1,2511.1 1240.0,2509.0 C1247.7,2507.0 1254.1,2501.8 1262.0,2500.0 C1270.6,2498.1 1281.2,2498.4 1290.0,2498.5 C1297.8,2498.6 1305.6,2501.9 1312.0,2500.0 C1318.1,2498.2 1322.4,2491.1 1328.0,2488.0 C1333.4,2485.0 1338.6,2482.5 1345.0,2481.5 C1352.9,2480.3 1363.0,2483.5 1372.0,2483.0 C1381.3,2482.4 1391.4,2481.7 1400.0,2478.0 C1408.8,2474.2 1417.0,2466.1 1424.0,2460.0 C1430.1,2454.7 1434.7,2447.8 1440.0,2444.0 C1444.0,2441.1 1447.5,2439.2 1452.0,2438.0 C1457.3,2436.6 1463.6,2438.5 1470.0,2437.0 C1478.0,2435.1 1487.8,2430.6 1496.0,2425.8 C1504.5,2420.9 1512.5,2414.0 1520.0,2407.8 C1527.1,2402.0 1533.3,2395.8 1540.0,2389.8 C1546.7,2383.8 1554.2,2378.1 1560.0,2371.8 C1565.4,2366.0 1569.8,2360.5 1574.0,2353.8 C1578.6,2346.6 1582.4,2338.1 1586.0,2329.8 C1589.7,2321.4 1593.0,2312.7 1596.0,2303.8 C1599.0,2294.7 1601.2,2285.5 1604.0,2275.9 C1607.0,2265.6 1610.6,2255.2 1613.5,2243.9 C1616.7,2231.4 1619.2,2217.6 1622.0,2203.9 C1624.9,2189.6 1628.0,2174.3 1630.5,2160.0 C1632.8,2146.4 1634.7,2132.2 1636.5,2120.0 C1638.0,2109.8 1639.2,2101.3 1640.5,2092.0" fill="none" stroke="#000" stroke-width="7.0" stroke-linejoin="round" stroke-linecap="round"/>
<path d="M1640.5,2092.0 C1639.7,2108.0 1638.9,2123.8 1638.0,2140.0 C1637.1,2156.5 1636.3,2174.3 1635.0,2190.0 C1633.9,2204.1 1632.7,2216.7 1631.0,2230.0 C1629.2,2243.4 1626.8,2256.7 1624.5,2270.0 C1622.2,2283.3 1619.6,2297.0 1617.0,2310.0 C1614.6,2322.3 1612.1,2334.2 1609.5,2346.0 C1606.9,2357.5 1604.4,2368.5 1601.5,2380.0 C1598.5,2391.8 1595.0,2404.5 1592.0,2416.0 C1589.2,2426.5 1587.0,2436.0 1584.0,2446.0 C1581.0,2456.0 1578.1,2466.5 1574.0,2476.0 C1570.0,2485.2 1565.7,2494.5 1560.0,2502.0 C1554.6,2509.0 1548.3,2514.1 1541.0,2520.0 C1532.4,2526.9 1522.1,2534.3 1511.0,2540.0 C1498.9,2546.2 1485.3,2551.5 1471.0,2555.4 C1455.4,2559.7 1439.0,2561.5 1420.8,2564.0 C1399.4,2567.0 1372.0,2569.5 1350.6,2571.5 C1332.5,2573.2 1316.0,2574.3 1300.5,2575.5 C1287.0,2576.6 1275.2,2577.5 1262.5,2578.5" fill="none" stroke="#000" stroke-width="7.0" stroke-linejoin="round" stroke-linecap="round"/>
<path d="M1086.0,2507.5 C1101.1,2507.8 1118.0,2508.2 1131.4,2508.5 C1142.0,2508.7 1150.8,2508.4 1160.0,2509.0 C1168.6,2509.6 1176.3,2511.2 1185.0,2512.0 C1194.5,2512.9 1205.5,2514.3 1215.0,2514.0 C1223.7,2513.8 1232.1,2513.1 1240.0,2511.0 C1247.7,2509.0 1254.1,2503.8 1262.0,2502.0 C1270.6,2500.1 1281.2,2500.4 1290.0,2500.5 C1297.8,2500.6 1305.6,2503.9 1312.0,2502.0 C1318.1,2500.2 1322.4,2493.1 1328.0,2490.0 C1333.4,2487.0 1338.6,2484.5 1345.0,2483.5 C1352.9,2482.3 1363.0,2485.5 1372.0,2485.0 C1381.3,2484.4 1391.4,2483.7 1400.0,2480.0 C1408.8,2476.2 1416.0,2468.0 1424.0,2462.0" fill="none" stroke="#000" stroke-width="7.0" stroke-dasharray="26 34" stroke-linejoin="round" stroke-linecap="round"/>
<path d="M1059.0,2560.0 C1065.7,2560.2 1071.7,2560.3 1079.0,2560.5 C1088.0,2560.7 1099.0,2561.2 1109.0,2561.0 C1119.0,2560.8 1130.7,2558.1 1139.0,2559.5 C1145.3,2560.6 1149.3,2565.6 1155.0,2566.0 C1161.2,2566.4 1167.9,2562.2 1175.0,2561.0 C1182.8,2559.6 1191.0,2559.1 1200.0,2558.5 C1210.7,2557.7 1223.7,2557.4 1235.0,2557.0 C1245.6,2556.6 1255.7,2556.3 1266.0,2556.0" fill="none" stroke="#000" stroke-width="7.0" stroke-dasharray="26 34" stroke-linejoin="round" stroke-linecap="round"/>
<path d="M1262.5,2580.5 C1275.2,2579.5 1287.0,2578.6 1300.5,2577.5 C1316.0,2576.3 1332.5,2575.2 1350.6,2573.5 C1372.0,2571.5 1399.4,2569.0 1420.8,2566.0 C1439.0,2563.5 1455.4,2561.7 1471.0,2557.4 C1485.3,2553.5 1498.9,2548.2 1511.0,2542.0 C1522.1,2536.3 1532.4,2528.9 1541.0,2522.0 C1548.3,2516.1 1553.7,2510.0 1560.0,2504.0" fill="none" stroke="#000" stroke-width="7.0" stroke-dasharray="26 34" stroke-linejoin="round" stroke-linecap="round"/>
<line x1="1637.9" y1="2238.9" x2="1639.9" y2="2228.9" stroke="#000" stroke-width="8.3" stroke-linecap="round"/>
<line x1="1629.9" y1="2299.9" x2="1631.9" y2="2276.9" stroke="#000" stroke-width="8.3" stroke-linecap="round"/>
<line x1="1618.9" y1="2361.8" x2="1620.9" y2="2339.8" stroke="#000" stroke-width="8.3" stroke-linecap="round"/>
<line x1="1599.9" y1="2420.8" x2="1606.9" y2="2400.8" stroke="#000" stroke-width="8.3" stroke-linecap="round"/>
<line x1="1574.9" y1="2476.7" x2="1585.9" y2="2459.8" stroke="#000" stroke-width="8.3" stroke-linecap="round"/>
<line x1="1445.0" y1="2460.8" x2="1465.0" y2="2454.8" stroke="#000" stroke-width="8.3" stroke-linecap="round"/>
<line x1="1498.9" y1="2434.8" x2="1519.9" y2="2424.8" stroke="#000" stroke-width="8.3" stroke-linecap="round"/>
<line x1="1547.9" y1="2398.8" x2="1563.9" y2="2382.8" stroke="#000" stroke-width="8.3" stroke-linecap="round"/>
<line x1="1583.9" y1="2348.8" x2="1595.9" y2="2330.8" stroke="#000" stroke-width="8.3" stroke-linecap="round"/>
<line x1="622.8" y1="2942.7" x2="622.8" y2="2921.6" stroke="#000" stroke-width="8.3" stroke-linecap="round"/>
<line x1="627.7" y1="2882.2" x2="630.3" y2="2858.2" stroke="#000" stroke-width="8.3" stroke-linecap="round"/>
<line x1="635.2" y1="2820.2" x2="638.9" y2="2797.7" stroke="#000" stroke-width="8.3" stroke-linecap="round"/>
<line x1="645.0" y1="2759.7" x2="650.5" y2="2737.2" stroke="#000" stroke-width="8.3" stroke-linecap="round"/>
<line x1="668.9" y1="2862.9" x2="685.0" y2="2846.7" stroke="#000" stroke-width="8.3" stroke-linecap="round"/>
<line x1="713.0" y1="2823.7" x2="732.3" y2="2807.8" stroke="#000" stroke-width="8.3" stroke-linecap="round"/>
<line x1="887.9" y1="2776.4" x2="895.4" y2="2754.5" stroke="#000" stroke-width="8.3" stroke-linecap="round"/>
<line x1="907.2" y1="2716.5" x2="918.5" y2="2695.4" stroke="#000" stroke-width="8.3" stroke-linecap="round"/>
<line x1="660.8" y1="2700.4" x2="669.8" y2="2675.9" stroke="#000" stroke-width="8.3" stroke-linecap="round"/>
<line x1="687.1" y1="2644.0" x2="702.1" y2="2625.2" stroke="#000" stroke-width="8.3" stroke-linecap="round"/>
<line x1="730.3" y1="2601.5" x2="754.4" y2="2589.5" stroke="#000" stroke-width="8.3" stroke-linecap="round"/>
<line x1="786.7" y1="2577.1" x2="812.6" y2="2566.9" stroke="#000" stroke-width="8.3" stroke-linecap="round"/>
<line x1="846.8" y1="2558.3" x2="872.8" y2="2553.8" stroke="#000" stroke-width="8.3" stroke-linecap="round"/>
<line x1="907.0" y1="2545.1" x2="932.9" y2="2540.6" stroke="#000" stroke-width="8.3" stroke-linecap="round"/>
<line x1="965.3" y1="2532.0" x2="991.2" y2="2529.3" stroke="#000" stroke-width="8.3" stroke-linecap="round"/>
<line x1="1027.3" y1="2522.6" x2="1049.5" y2="2519.9" stroke="#000" stroke-width="8.3" stroke-linecap="round"/>
<line x1="1006.6" y1="2578.9" x2="1026.9" y2="2566.9" stroke="#000" stroke-width="8.3" stroke-linecap="round"/>
<line x1="963.4" y1="2616.5" x2="981.8" y2="2597.0" stroke="#000" stroke-width="8.3" stroke-linecap="round"/>
<line x1="933.3" y1="2663.5" x2="944.2" y2="2638.3" stroke="#000" stroke-width="8.3" stroke-linecap="round"/>
<path d="M760.4,2788.9 C764.4,2788.4 768.5,2787.1 772.5,2787.2 C776.4,2787.3 780.2,2788.5 784.0,2789.2" fill="none" stroke="#000" stroke-width="8.3" stroke-linecap="round"/>
<path d="M814.0,2794.7 C818.4,2793.4 822.9,2791.0 827.3,2790.7 C831.3,2790.3 835.3,2791.6 839.4,2792.1" fill="none" stroke="#000" stroke-width="8.3" stroke-linecap="round"/>
<path d="M856.1,2820.6 C858.7,2822.1 861.3,2824.8 863.9,2825.0 C866.3,2825.1 869.1,2823.5 871.1,2821.8 C873.2,2819.9 874.1,2816.4 875.7,2813.7" fill="none" stroke="#000" stroke-width="8.3" stroke-linecap="round"/>
<line x1="649.5" y1="2894.0" x2="654.5" y2="2886.5" stroke="#000" stroke-width="8.3" stroke-linecap="round"/>
</g>
<g id="panel-d-axes" filter="url(#soft08)">
<g clip-path="url(#clipd)">
<path d="M492.3,2033 H504.8 Q509.8,2033 509.8,2039 V3249.4 H1822.5 Q1828,3249.4 1828,3255.4 V3264.9" fill="none" stroke="#000" stroke-width="8.4"/>
<rect x="492.30" y="2202.60" width="17.50" height="8.20" fill="#000"/>
<rect x="492.30" y="2376.50" width="17.50" height="8.20" fill="#000"/>
<rect x="492.30" y="2550.40" width="17.50" height="8.20" fill="#000"/>
<rect x="492.30" y="2724.30" width="17.50" height="8.20" fill="#000"/>
<rect x="492.30" y="2898.20" width="17.50" height="8.20" fill="#000"/>
<rect x="492.30" y="3072.10" width="17.50" height="8.20" fill="#000"/>
<rect x="492.30" y="3246.00" width="17.50" height="8.20" fill="#000"/>
<rect x="505.90" y="3249.40" width="8.20" height="15.50" fill="#000"/>
<rect x="694.40" y="3249.40" width="8.20" height="15.50" fill="#000"/>
<rect x="882.90" y="3249.40" width="8.20" height="15.50" fill="#000"/>
<rect x="1071.40" y="3249.40" width="8.20" height="15.50" fill="#000"/>
<rect x="1259.90" y="3249.40" width="8.20" height="15.50" fill="#000"/>
<rect x="1448.40" y="3249.40" width="8.20" height="15.50" fill="#000"/>
<rect x="1636.90" y="3249.40" width="8.20" height="15.50" fill="#000"/>
<text x="460.6" y="2049.0" font-size="52" font-family='"Liberation Sans", Arial, Helvetica, sans-serif' font-weight="bold" text-anchor="end" fill="#0a0a0a" textLength="58.5" lengthAdjust="spacingAndGlyphs" >60</text>
<text x="460.6" y="2222.9" font-size="52" font-family='"Liberation Sans", Arial, Helvetica, sans-serif' font-weight="bold" text-anchor="end" fill="#0a0a0a" textLength="58.5" lengthAdjust="spacingAndGlyphs" >40</text>
<text x="460.6" y="2396.8" font-size="52" font-family='"Liberation Sans", Arial, Helvetica, sans-serif' font-weight="bold" text-anchor="end" fill="#0a0a0a" textLength="58.5" lengthAdjust="spacingAndGlyphs" >20</text>
<text x="460.6" y="2570.7" font-size="52" font-family='"Liberation Sans", Arial, Helvetica, sans-serif' font-weight="bold" text-anchor="end" fill="#0a0a0a" textLength="29.5" lengthAdjust="spacingAndGlyphs" >0</text>
<text x="460.6" y="2744.6" font-size="52" font-family='"Liberation Sans", Arial, Helvetica, sans-serif' font-weight="bold" text-anchor="end" fill="#0a0a0a" textLength="75.5" lengthAdjust="spacingAndGlyphs" >-20</text>
<text x="460.6" y="2918.5" font-size="52" font-family='"Liberation Sans", Arial, Helvetica, sans-serif' font-weight="bold" text-anchor="end" fill="#0a0a0a" textLength="75.5" lengthAdjust="spacingAndGlyphs" >-40</text>
<text x="460.6" y="3092.4" font-size="52" font-family='"Liberation Sans", Arial, Helvetica, sans-serif' font-weight="bold" text-anchor="end" fill="#0a0a0a" textLength="75.5" lengthAdjust="spacingAndGlyphs" >-60</text>
<text x="460.6" y="3266.3" font-size="52" font-family='"Liberation Sans", Arial, Helvetica, sans-serif' font-weight="bold" text-anchor="end" fill="#0a0a0a" textLength="75.5" lengthAdjust="spacingAndGlyphs" >-80</text>
<text x="512.5" y="3338.0" font-size="52" font-family='"Liberation Sans", Arial, Helvetica, sans-serif' font-weight="bold" text-anchor="middle" fill="#0a0a0a" textLength="89.5" lengthAdjust="spacingAndGlyphs" >-2.0</text>
<text x="699.0" y="3338.0" font-size="52" font-family='"Liberation Sans", Arial, Helvetica, sans-serif' font-weight="bold" text-anchor="middle" fill="#0a0a0a" textLength="89.5" lengthAdjust="spacingAndGlyphs" >-1.5</text>
<text x="887.5" y="3338.0" font-size="52" font-family='"Liberation Sans", Arial, Helvetica, sans-serif' font-weight="bold" text-anchor="middle" fill="#0a0a0a" textLength="89.5" lengthAdjust="spacingAndGlyphs" >-1.0</text>
<text x="1076.0" y="3338.0" font-size="52" font-family='"Liberation Sans", Arial, Helvetica, sans-serif' font-weight="bold" text-anchor="middle" fill="#0a0a0a" textLength="89.5" lengthAdjust="spacingAndGlyphs" >-0.5</text>
<text x="1264.5" y="3338.0" font-size="52" font-family='"Liberation Sans", Arial, Helvetica, sans-serif' font-weight="bold" text-anchor="middle" fill="#0a0a0a" textLength="72.5" lengthAdjust="spacingAndGlyphs" >0.0</text>
<text x="1453.0" y="3338.0" font-size="52" font-family='"Liberation Sans", Arial, Helvetica, sans-serif' font-weight="bold" text-anchor="middle" fill="#0a0a0a" textLength="72.5" lengthAdjust="spacingAndGlyphs" >0.5</text>
<text x="1641.5" y="3338.0" font-size="52" font-family='"Liberation Sans", Arial, Helvetica, sans-serif' font-weight="bold" text-anchor="middle" fill="#0a0a0a" textLength="72.5" lengthAdjust="spacingAndGlyphs" >1.0</text>
<text x="1830.0" y="3338.0" font-size="52" font-family='"Liberation Sans", Arial, Helvetica, sans-serif' font-weight="bold" text-anchor="middle" fill="#0a0a0a" textLength="72.5" lengthAdjust="spacingAndGlyphs" >1.5</text>
</g>
<text x="973.5" y="3424.8" font-size="54" font-family='"Liberation Sans", Arial, Helvetica, sans-serif' font-weight="bold" text-anchor="start" fill="#0a0a0a" textLength="397.0" lengthAdjust="spacingAndGlyphs" >E,V(vsAg/AgCl)</text>
<text x="355.0" y="2641.0" font-size="58" font-family='"Liberation Sans", Arial, Helvetica, sans-serif' font-weight="bold" text-anchor="middle" fill="#0a0a0a" textLength="106.0" lengthAdjust="spacingAndGlyphs" transform="rotate(-90 355.0 2641.0)" >i,µA</text>
<text x="578.4" y="2144.3" font-size="115" font-family='"Liberation Sans", Arial, Helvetica, sans-serif' font-weight="bold" fill="#000" textLength="141.0" lengthAdjust="spacingAndGlyphs" stroke-linejoin="round"><tspan font-weight="normal" stroke="#000" stroke-width="3.2">(</tspan><tspan stroke="#fff" stroke-width="1.6" paint-order="fill stroke">d</tspan><tspan font-weight="normal" stroke="#000" stroke-width="3.2">)</tspan></text>
<text x="1026.3" y="2420.0" font-size="80" font-family='"Liberation Sans", Arial, Helvetica, sans-serif' font-weight="bold" text-anchor="start" fill="#000" textLength="101.0" lengthAdjust="spacingAndGlyphs" >O1</text>
<text x="796.7" y="3186.0" font-size="80" font-family='"Liberation Sans", Arial, Helvetica, sans-serif' font-weight="bold" text-anchor="start" fill="#000" textLength="89.0" lengthAdjust="spacingAndGlyphs" >R1</text>
</g>
</g>
<g id="arrows" filter="url(#soft05)">
<clipPath id="arrowclip0"><polygon points="798.8,739.7 845.7,786.2 643.3,994.7 672.3,1020.2 575.4,1021.0 575.4,926.3 599.5,951.8"/></clipPath>
<polygon points="798.8,739.7 845.7,786.2 643.3,994.7 672.3,1020.2 575.4,1021.0 575.4,926.3 599.5,951.8" fill="#2985c6" stroke="#1c69a6" stroke-width="8.4" stroke-linejoin="miter" clip-path="url(#arrowclip0)"/>
<clipPath id="arrowclip1"><polygon points="1224.5,1340.7 1257.4,1398.6 1004.3,1539.3 1023.3,1572.4 930.1,1543.8 957.1,1452.1 972.2,1484.2"/></clipPath>
<polygon points="1224.5,1340.7 1257.4,1398.6 1004.3,1539.3 1023.3,1572.4 930.1,1543.8 957.1,1452.1 972.2,1484.2" fill="#2985c6" stroke="#1c69a6" stroke-width="8.4" stroke-linejoin="miter" clip-path="url(#arrowclip1)"/>
</g>
</svg>
</body>
</html>
